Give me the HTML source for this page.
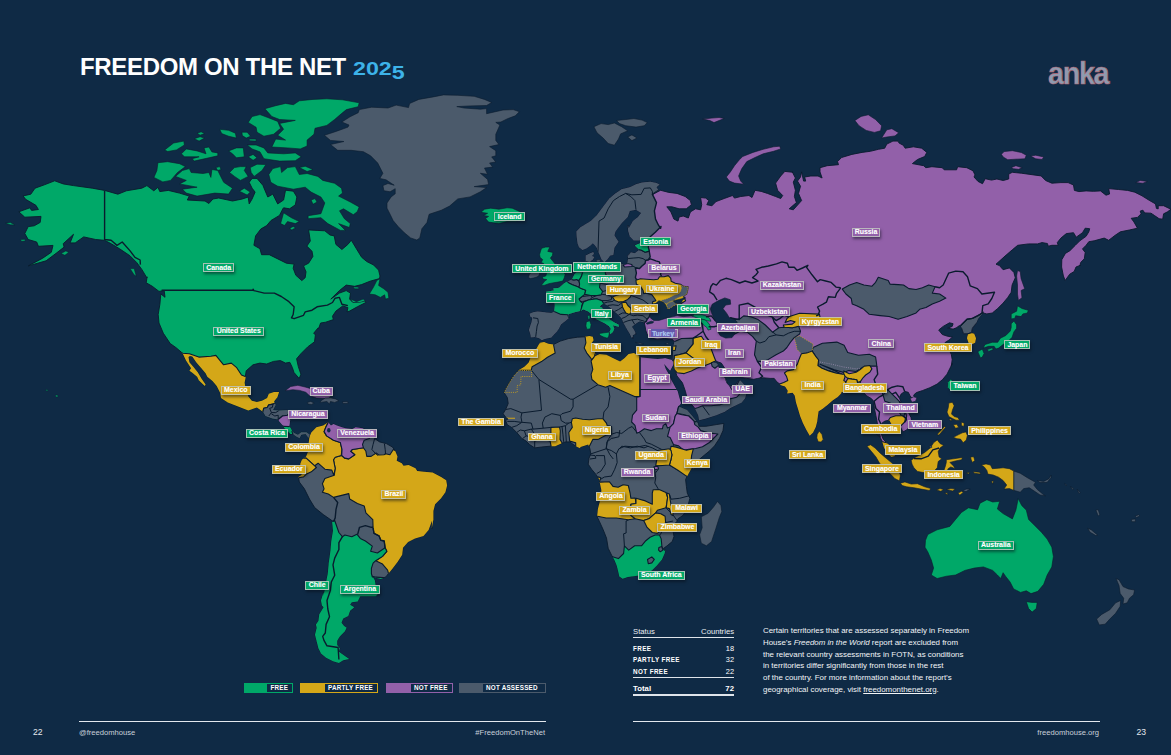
<!DOCTYPE html>
<html><head><meta charset="utf-8"><title>Freedom on the Net 2025</title>
<style>
html,body{margin:0;padding:0;}
body{width:1171px;height:755px;overflow:hidden;background:#0f2a45;font-family:"Liberation Sans",sans-serif;color:#fff;position:relative;}
#map{position:absolute;left:0;top:0;}
.abs{position:absolute;white-space:nowrap;}
#title{left:80px;top:53px;font-size:24px;font-weight:bold;line-height:28px;letter-spacing:-0.34px;transform-origin:0 0;}
#title .yr{display:inline-block;font-size:17.6px;letter-spacing:0;transform:scale(1.32,1);transform-origin:0 100%;margin-left:1px;}
#title .yr b{position:relative;top:4.3px;}
#title .yr{color:#3db3e9;}
#anka{left:1048px;top:54.5px;font-size:31.5px;font-weight:bold;line-height:36px;color:#8e9bb0;letter-spacing:-1.5px;-webkit-text-stroke:0.6px #b5646e;transform:scaleX(0.915);transform-origin:0 0;}
.hr{position:absolute;height:1px;background:#e3e8ee;top:720.6px;}
.foot{font-size:7.6px;color:#c9d0da;top:727.5px;line-height:10px;}
.pg{font-size:8.6px;color:#e5e9ee;top:727px;line-height:10px;}
.lg{position:absolute;top:683px;height:8px;border:1px solid;box-sizing:content-box;font-size:6.3px;font-weight:bold;line-height:8.6px;letter-spacing:0.22px;color:#fff;}
.lg i{position:absolute;left:0;top:0;bottom:0;display:block;}
.lg b{position:absolute;top:0;}
.lab{position:absolute;box-sizing:border-box;height:10px;border:1.2px solid rgba(192,198,192,.86);font-size:7px;font-weight:bold;letter-spacing:-0.05px;color:#fff;text-align:center;white-space:nowrap;box-shadow:1.2px 1.8px 2.6px rgba(5,12,22,.5);text-shadow:0 0 1px rgba(255,255,255,.35);}
#tbl{position:absolute;left:633px;top:626px;width:101px;font-size:7.4px;color:#fff;}
#tbl .r{position:absolute;left:0;width:101px;height:10px;line-height:10px;}
#tbl .r span{position:absolute;right:0;top:0;}
#tbl .ln{position:absolute;left:0;width:101px;background:#dfe4ea;}
#para{left:763px;top:625.3px;font-size:7.92px;line-height:11.65px;color:#f2f4f7;white-space:nowrap;}
</style></head><body>
<svg id="map" width="1171" height="755" viewBox="0 0 1171 755"><defs><clipPath id="na"><path d="M23.1,195.9 30.8,194.2 35,188.2 44.4,184.8 54.7,180.8 63.2,183.9 73.5,185.6 92.3,188.2 104.6,190.4 117.9,194.2 126.4,190.8 141.8,188.2 146.9,185.6 153.8,190.8 158,187.3 159.8,191.6 168.3,190.4 179.5,193.1 189.3,196.1 187.3,200 205,201 208.9,203.5 212.9,199 218.7,198 232.5,201 242.3,199 248.2,197 249.2,203.9 252.1,199 255.1,192.1 252.1,188.2 249.2,182.3 252.1,178.4 257,178.4 262.9,185.3 264.9,190.2 267.8,197 272.8,194.1 277.7,203.9 283.6,200 285.5,190.2 293.4,191.2 296.9,197 295.3,204.9 289.5,208.8 283.6,207.8 283,208.5 279.5,215.4 271,220.5 266.7,225.6 260.8,229 255.6,235.9 253.9,245.3 259.9,248.7 261.6,254.7 269.3,254.7 277.8,258.9 286.4,263.2 294.1,264.1 293.2,268.3 295.8,275.2 301.8,280.6 305.2,277.7 306,271.8 303.5,265.8 308.6,263.2 312.9,256.4 312,251.3 306.9,246.1 310.3,241 308.6,229.9 317.1,230.4 324.8,230.8 330,235 334.2,235.9 335.9,244.4 341.9,249.5 347.9,244.4 351.3,240.2 356.4,248.7 361.6,257.2 366.7,261.5 373.5,264.9 378.6,270.1 380,276 379.5,278.6 370.1,281.2 361.6,284.6 354.7,286.3 346.2,285.1 339.4,290.6 330.8,299.1 339.4,293.1 346.2,290.6 350.5,293.1 349.6,299.1 353,302.5 359.9,301.7 365,300.8 365.8,302.5 357.3,306.8 349.6,311.1 347,311.9 347.9,307.6 342.8,305.9 335.9,311.1 332.5,316.2 333.4,319.6 325.7,322.2 320.6,323 318.8,328.1 317.9,328.1 313.7,333.2 315.4,334.9 314.5,341.8 307.7,346.9 300.9,353.7 296.6,358.8 298.3,366.5 300.9,374.2 299.2,378.5 294,372.5 292.3,367.4 289.8,362.3 285.5,363.1 280.4,360.6 273.5,361.4 266.7,364 259.9,363.1 253,364.8 246.2,370.8 245.3,376.8 245.8,376.7 244.6,382.7 245.8,389.5 248.3,396.4 251.8,400.7 256.9,401.9 262,400.7 267.1,398.1 268.8,393.8 274,392.1 279.1,392.1 277.4,397.2 274,401.5 274.8,402.4 275.7,404.9 273.1,410.1 279.1,410.4 287.6,410.1 289.4,413.5 290.2,420.3 289.4,426.3 291.1,428.8 292.8,432.3 297.9,434.8 301.3,432.3 306.4,432.3 309.9,434.8 310.7,438.2 308.1,437.4 305.6,434 301.3,434.8 299.6,438.2 296.2,436.5 292.8,434 290.2,434 286.8,429.7 284.2,428 283.4,426.3 279.1,421.2 278.2,419.5 272.3,418.6 265.4,416 262.9,411.8 256.9,407.5 248.3,410.4 238.1,406.6 227.8,402.4 221,398.1 220.2,393 216.7,386.1 212.5,381 207.3,376.7 205.6,373.3 200.5,367.3 196.2,362.2 192.3,356.6 189.9,355.9 188.5,357.1 189.4,362.2 193.7,367.3 197.9,372.5 201.4,378.4 205.6,384.4 204.8,386.1 198.8,380.2 197.1,376.7 192,372.5 189.4,370.8 191.1,368.2 186,360.5 182.6,353.3 176.1,347.7 170.2,343.5 163.3,333.2 159,323 158.2,314.4 159.9,304.2 160.8,293.9 165,297.3 164.2,290.5 159,291.4 152.2,286.2 146.2,282.8 147.1,276.8 146.9,277.9 141.8,269.4 136.7,262.5 129.9,255.7 119.6,248.8 111.1,243.7 104.6,240.3 95.7,239.5 83.7,236.9 75.2,242.9 70.1,242.9 73.5,234.3 63.2,243.7 64.1,247.1 56.4,253.1 46.1,260.8 28.2,265.9 42.7,258.2 51.3,252.3 53,245.4 38.4,246.3 36.7,242 28.2,239.5 24.8,233.5 28.2,226.6 34.2,225.8 40.2,222.4 41,216.4 24.8,217.2 18.8,211.8 29.9,207.8 31.6,210.4 38.4,209.5 35.9,205.3 25.6,199.3Z"/></clipPath><clipPath id="sa"><path d="M309.5,436.7 311.3,432.5 316.4,427.3 323.2,425.6 328.3,422.2 330.9,425.6 333.5,423.9 336.9,425.6 342,427.3 345.4,428.2 352.3,429 355.7,427.3 362.5,428.2 365.9,429.9 371.1,434.2 374.5,438.4 379.6,441.9 386.4,443.6 392.4,447 395,450.4 397.5,456.4 396.7,460.7 401.8,463.2 403.5,465.8 408.6,464.9 415.5,468.3 417.2,470.9 424,471.8 432.6,472.6 441.1,476.9 446.2,480.3 447.1,485.4 445.4,492.3 441.1,498.2 435.1,504.2 433.4,511.1 433.4,519.6 431.7,529 432.1,520.5 428.6,529.9 423.5,535.9 415,538.4 408.1,541.9 403,547.8 402.2,554.7 397.9,561.5 392.8,568.3 388.5,573.5 385.9,576.9 380.8,578.9 375.7,577.7 372.3,576 374.8,580.3 375.7,585.4 379.1,588.8 377.4,594.8 375.7,596.2 360.3,596.2 357.7,601.4 351.8,602.2 350.1,604.8 354.3,607.3 350.1,610.8 348.3,615.9 343.2,618.4 341.5,622.7 344.1,626.1 346.6,627.8 344.9,631.3 339.8,636.4 337.2,640.7 337.2,644.9 339.8,648.3 338.9,651.8 344.9,656 349.2,658.9 343.2,660.3 338.9,662.9 333,661.2 326.1,657.7 321,653.5 318.4,648.3 316.7,641.5 315,634.7 316.7,627.8 315.9,624.4 318.4,621 319.3,614.2 323.6,607.3 321.9,605.6 321,600.5 323.6,592 323.6,595.7 326.1,582 327.8,573.5 328.7,563.2 330.4,551.3 331.3,541 333,530.8 332.1,521.4 333.5,521.7 331.8,520.5 323.2,514.5 314.7,507.6 309.5,499.1 304.4,488.8 299.3,482 298.4,476.9 301,475.2 303.6,471.8 301,468.3 300.2,464.1 301.9,459.8 306.1,456.4 309.5,447.8 308.7,442.7Z"/></clipPath><clipPath id="af"><path d="M539.8,342.8 544.1,342 548.3,343.7 553.5,344.5 560.3,341.1 568.8,338.5 577.4,337.2 585.1,336.8 589.4,336 592.8,336.8 593.6,340.3 591.1,343.7 592.8,347.1 596.2,352.2 594.5,356.5 599.6,353.9 606.4,354.8 613.3,358.2 620.1,361.6 624.4,358.2 628.6,353.9 633.8,353.1 638.9,355.6 640.6,357.3 649.2,358.2 657.7,359 664.5,358.2 664.9,357.9 670.1,359.6 673.1,360.2 673.8,363.9 670.1,370.8 664.1,363.9 665.8,369 668.3,373.3 670.9,379.3 675.2,387 677.7,391.3 679.5,398.1 681.2,403.2 678.6,406.6 681.2,407.5 687.1,410.1 692.3,416 695.7,420.3 698.2,422.9 699.1,426.3 705.9,426.3 716.2,424.6 723.9,423.4 723,430.6 719.6,438.2 714.5,445.9 709.4,451.1 704.2,455.3 699.1,459.6 694.8,464.7 693.1,469 692.4,466.7 688.1,474.4 685.6,479.5 686.4,486.4 687.3,493.2 689.9,498.3 688.1,505.2 686.4,510.3 683,515.4 677.9,518.8 677.4,521 674,524.4 673.1,531.3 674,536.4 672.3,541.5 667.1,545.8 663.7,548.3 665.4,550.1 664.6,553.5 662,559.5 656.9,565.4 651.8,570.6 644.9,574 637.2,575.7 627.8,577 622.7,578.8 619.3,576.5 618.4,572.3 616.7,565.4 614.2,559.5 611.6,555.2 608.2,548.3 606.5,538.1 603.1,529.5 599.6,521.9 597.1,516.7 597.9,509 600.5,498.8 601.4,490.3 599.6,481.7 599.3,479.5 595.9,474.4 591.6,469.3 588.2,464.2 589,458.2 590.8,453.9 589.9,448.8 588.2,444.5 580.5,447.1 580,448.2 575.7,446.2 569.7,441.9 565.4,441.9 561.2,443.6 555.2,446.2 550.1,446.2 541.5,447 534.7,447.9 529.5,444.5 526.1,441.1 521.9,438.5 516.7,432.5 511.6,427.4 507.3,424.8 505.6,420.6 508.2,418.8 505.6,417.1 503.1,413.7 505.6,409.5 508.2,403.5 507.3,397.5 503.9,392.4 505.6,388.9 509,383 513.3,376.1 518.4,370.2 524.4,366.7 528.7,362.5 531.3,355.6 536.4,348.8Z"/></clipPath><clipPath id="ea"><path d="M672.7,361 673.1,350.2 673.4,346.6 674.3,342.1 672.5,339.4 664.4,338.5 657.2,339.4 650,337.6 647.1,334.2 645.7,330.1 645,326 644.3,322.6 640.2,321.2 637.5,322.6 634.8,324.6 632,326.7 634.1,330.1 636.1,334.2 632.7,334.9 633.4,338.3 631.4,337.6 630,334.2 627.9,330.8 625.9,327.4 625.2,326 623.2,322.6 621.8,318.5 618.4,315.1 614.3,311.6 610.9,308.2 607.4,305.5 603.3,303.4 600.6,305.5 599.9,306.9 602,307.5 604,311.6 607.4,316.4 610.2,319.8 614.3,322.6 618.4,324.6 619.1,326.7 615.6,326 612.9,325.3 614.3,328.7 612.9,332.1 610.2,334.2 609.5,332.1 610.9,328.7 608.8,326 604.7,323.3 600.6,321.2 596.5,319.2 592.4,315.1 588.3,311.6 583.5,309.6 580.1,311 574.7,312.3 569.9,313.7 567.8,314.8 569.2,317.8 565.1,321.2 561,324.6 558.9,328.7 556.9,331.5 554.2,334.2 551.4,337.6 544.6,339 541.9,340.3 539.1,338.3 535,336.9 530.9,337.6 530.2,333.5 528.9,330.1 530.2,326 531.6,321.9 532.3,317.8 530.2,316.4 529.6,313.7 533,312.3 537.8,311.6 544.6,312.3 551.4,313 554.2,311.6 554.8,305.5 554.2,298.7 551.4,294.6 546.6,293.9 546,291.8 553.5,290.5 553.9,291.4 553.4,288.3 556,288.3 559.1,287.8 564.2,283.2 567.3,281.6 571.9,279.6 574.4,274.5 576.5,272.4 582.6,272.4 585.7,268.8 586.7,264.7 585.7,262.2 585.7,255.5 589.8,253.4 593.4,251.9 593.9,254 591.9,256 594.4,257 592.9,259.6 590.8,261.1 589.8,262.7 592.9,262.7 596,264.2 601.1,263.7 605.2,264.7 609.3,264.2 615.4,263.2 621.6,263.7 623.6,264.7 623.6,265 627.2,263.7 627.7,260.9 628.2,258.3 627.7,255.7 630.7,252.2 634.8,253.2 638.4,250.6 638.4,249.1 634.8,245.5 639.5,243.4 645.1,242.4 650.2,241.9 650.2,240.4 645.1,240.4 640,240.4 633.8,240.4 629.7,236.3 628.2,231.1 627.7,225 628.8,228.3 632.9,221.1 638,217 641.1,212.9 636,209.8 629.8,210.9 627.7,217 621.6,223.2 615.4,231.4 614.4,235.5 618.5,241.7 614.4,247.8 613.4,255 610.3,255.5 607.2,259.6 604.2,262.2 601.6,259.6 599,253.4 597,248.3 594.9,245.2 592.9,243.2 590.8,245.2 586.7,248.3 582.6,249.9 579,247.3 577.5,243.2 576.5,235 576.4,231.4 580.5,227.3 590.8,221.1 597,215 603.1,206.8 609.3,198.5 615.4,193.4 621.6,189.3 629.8,187.3 636,184.2 642.1,182.5 650.3,181.7 656.5,183.1 659.6,184.6 656.5,187.3 658.5,190.3 652.4,194.4 660.6,190.3 668.8,192.4 677,193.4 685.2,196.5 690.4,200.6 691.4,204.7 686.3,208.8 679.1,208.8 671.9,206.8 666.8,206.8 670.9,211.9 673.9,219.1 678,221.1 679.1,217 683.2,216 688.3,218 690.4,211.9 695.5,208.8 700.6,209.8 701.7,204.7 700.6,197.5 705.8,198.1 708.8,200.6 706.8,204.7 711.9,205.7 716,201.6 724.2,198.5 732.5,195.5 734.5,198.1 740.7,196.5 748.9,195.5 752,197.5 755,190.3 761.2,191.4 767.4,193.4 775.6,196.5 780.7,198.5 782.7,195.5 777.6,190.3 775.6,183.1 780.7,176 784.8,171.4 793,172.3 792.3,171.9 795.4,178 793.3,182.1 795.4,190.3 794.4,196.5 796.4,202.6 789.2,208.8 793.3,209.8 801.6,200.6 798.5,193.4 800.5,186.2 797.5,181.1 800.5,177 801.6,171.9 803.6,181.1 805.7,181.1 804.6,177 810.8,176 818,176 822.1,178 820,171.9 820,167.7 827.2,165.7 838.5,164.7 837.5,161.6 841.6,157.5 851.9,154.4 862.1,152.4 870.3,151.3 878.5,149.3 884.7,148.2 886.8,144.1 892.9,141.1 898,141.1 899.1,143.1 903.2,145.2 905.2,148.2 913.4,146.8 921.7,148.2 926.8,152.4 924.7,156.5 917.5,159.5 912.4,163.6 923.7,165.7 925.8,167.7 931.9,166.7 942.2,167.7 944.2,169.8 956.6,169.8 957.6,166.7 966.8,167.7 973,170.8 975,174.9 974,177 978,181.4 982.5,183.7 985.2,178.7 991.5,180.1 996.9,179 1003.2,180.5 1008.7,179 1008.7,174.1 1012.3,172.3 1021.3,173.2 1032.1,174.7 1041.1,175.9 1045.6,180.5 1051.9,183.2 1060.9,182.6 1068.1,182.6 1073.5,185 1074.4,190.4 1078.9,191.6 1086.1,190.9 1093.3,191.3 1100.5,190.9 1106,195.2 1109.6,194 1108.7,188.6 1118.6,189.5 1127.6,190.4 1134.8,192.2 1142,195.8 1149.2,200.3 1155.5,203.9 1156.4,208.4 1158.2,208.9 1158.2,205.7 1163.6,205.7 1171,209.3 1167.2,212 1163.6,213.8 1162.7,219.2 1159.1,218.7 1154.6,215.6 1151,213.2 1144.7,212.9 1142.9,210.2 1140.2,211.1 1141.1,213.8 1137.5,217.4 1131.2,218.3 1133.9,221.9 1137.5,228.2 1129.4,230 1120.4,231.8 1115,235.4 1108.7,240.3 1104.2,238.1 1094.2,240.8 1088.8,241.7 1086.1,245.3 1082.5,248.9 1085.2,252.5 1084.3,258.8 1080.7,262.4 1079.8,266 1080.5,265.2 1076,267 1074.2,271.5 1069.7,274.2 1065.2,280.5 1063.4,276 1061.6,267 1061.8,259.7 1065.4,253.4 1069.9,250.7 1075.3,245.3 1079.8,240.8 1086.1,236.3 1088.8,231.8 1089.7,228.7 1085.2,228.2 1082.5,232.7 1076.2,237.2 1073.5,232.7 1066.3,233.6 1060.9,238.1 1057.3,242.6 1058.2,245.3 1051.9,245.3 1048.3,246.2 1047.4,243.5 1042,242.6 1037.5,243.9 1028.5,243.9 1017.7,245.3 1012.3,249.8 1005,256.1 996,264.2 999.5,265.6 1003.1,269.7 1009.4,267.9 1013.9,272.4 1015.3,277.8 1012.1,285 1011.2,292.3 1007.6,297.7 1003.1,303.1 997.7,308.5 992.3,313 986.8,313.9 983.2,313 980.5,315.7 977.8,319.3 976,323.8 972.4,328.3 971.5,332.8 974.2,333.7 976,338.2 975.1,342.7 971.5,344.5 968.8,343.6 967,338.2 967.9,333.7 963.4,333.7 961.6,328.3 960.7,325.6 960.3,325.5 957.6,327.3 953.1,329.1 947.7,328.2 952.2,326.4 953.1,323.7 949.5,322.8 943.2,326.4 938.7,330 942.3,334.5 946.8,336 952.5,337.2 948.6,340.3 945,342.6 948.6,348.9 951.3,354.3 952.2,359.7 951.3,366 952.4,363.4 949.7,368.8 947,374.2 942.5,379.6 937.1,384.1 929.9,387.7 922.7,390.5 916.4,392.6 913.7,395 914.6,397.7 911.9,398 910.1,395.9 908.3,392.3 904.7,391.4 901.1,394.1 899.3,397.7 901.1,402.2 904.7,406.7 908.3,412.1 911,417.5 911.9,422 910.1,426.5 906.5,430.1 902.9,431.9 901.1,428.3 895.7,426.5 891.2,423.8 889.4,420.2 884.9,421.1 882.2,422.9 880.4,428.3 881.3,433.7 883.1,439.1 886.7,442.7 891.4,447.1 893.2,451.6 895,456.1 891.4,457 887.7,453.4 884.1,448 882.3,441.7 880.5,438.1 876,433.6 880.4,437.3 878.6,430.1 877.3,422.9 875.9,415.7 874.4,408.5 873.7,401.3 871.4,398.6 866.8,395.9 863.2,392.3 858.7,390.8 860.9,392.1 856.1,392.8 849.3,393.1 843.8,392.8 841.8,391.7 841.1,393.5 837.7,396.9 832.9,400.3 827.4,405.1 822,409.2 818.6,411.2 817.9,416 817.2,421.5 815.8,427 813.1,432.4 809.7,435.8 806.3,429.7 802.9,422.9 800.1,416 798.1,409.2 796,402.4 794.7,395.5 792.6,392.8 787.1,393.5 787.8,390.7 785.1,386.6 781,385.3 779.6,383.9 776.9,381.9 774.2,378.4 770.1,378.4 763.2,377.8 757.8,378.4 753.8,379.3 746.9,378.4 741.8,377.6 735,376.7 728.1,373.3 724.7,368.2 721.3,363.1 716.2,361.4 713.6,362.2 716.2,363.1 717.9,364.8 719.6,368.2 722.2,374.2 725.6,378.4 727.3,383.6 729.9,386.1 735,385.3 738.4,381 740.1,380.2 741.8,381.9 745.2,386.1 746.9,391.3 745.2,398.1 741.8,402.4 735,405.8 729.9,408.3 724.7,411.8 716.2,415.2 705.9,418.6 699.1,420.3 698.2,415.2 694.8,408.3 690.6,403.2 687.1,398.1 685.4,391.3 682.4,382.7 676.9,375.9 674.7,369 673.8,363.9 673.1,360.2Z"/></clipPath></defs><path d="M23.1,195.9 30.8,194.2 35,188.2 44.4,184.8 54.7,180.8 63.2,183.9 73.5,185.6 92.3,188.2 104.6,190.4 117.9,194.2 126.4,190.8 141.8,188.2 146.9,185.6 153.8,190.8 158,187.3 159.8,191.6 168.3,190.4 179.5,193.1 189.3,196.1 187.3,200 205,201 208.9,203.5 212.9,199 218.7,198 232.5,201 242.3,199 248.2,197 249.2,203.9 252.1,199 255.1,192.1 252.1,188.2 249.2,182.3 252.1,178.4 257,178.4 262.9,185.3 264.9,190.2 267.8,197 272.8,194.1 277.7,203.9 283.6,200 285.5,190.2 293.4,191.2 296.9,197 295.3,204.9 289.5,208.8 283.6,207.8 283,208.5 279.5,215.4 271,220.5 266.7,225.6 260.8,229 255.6,235.9 253.9,245.3 259.9,248.7 261.6,254.7 269.3,254.7 277.8,258.9 286.4,263.2 294.1,264.1 293.2,268.3 295.8,275.2 301.8,280.6 305.2,277.7 306,271.8 303.5,265.8 308.6,263.2 312.9,256.4 312,251.3 306.9,246.1 310.3,241 308.6,229.9 317.1,230.4 324.8,230.8 330,235 334.2,235.9 335.9,244.4 341.9,249.5 347.9,244.4 351.3,240.2 356.4,248.7 361.6,257.2 366.7,261.5 373.5,264.9 378.6,270.1 380,276 379.5,278.6 370.1,281.2 361.6,284.6 354.7,286.3 346.2,285.1 339.4,290.6 330.8,299.1 339.4,293.1 346.2,290.6 350.5,293.1 349.6,299.1 353,302.5 359.9,301.7 365,300.8 365.8,302.5 357.3,306.8 349.6,311.1 347,311.9 347.9,307.6 342.8,305.9 335.9,311.1 332.5,316.2 333.4,319.6 325.7,322.2 320.6,323 318.8,328.1 317.9,328.1 313.7,333.2 315.4,334.9 314.5,341.8 307.7,346.9 300.9,353.7 296.6,358.8 298.3,366.5 300.9,374.2 299.2,378.5 294,372.5 292.3,367.4 289.8,362.3 285.5,363.1 280.4,360.6 273.5,361.4 266.7,364 259.9,363.1 253,364.8 246.2,370.8 245.3,376.8 245.8,376.7 244.6,382.7 245.8,389.5 248.3,396.4 251.8,400.7 256.9,401.9 262,400.7 267.1,398.1 268.8,393.8 274,392.1 279.1,392.1 277.4,397.2 274,401.5 274.8,402.4 275.7,404.9 273.1,410.1 279.1,410.4 287.6,410.1 289.4,413.5 290.2,420.3 289.4,426.3 291.1,428.8 292.8,432.3 297.9,434.8 301.3,432.3 306.4,432.3 309.9,434.8 310.7,438.2 308.1,437.4 305.6,434 301.3,434.8 299.6,438.2 296.2,436.5 292.8,434 290.2,434 286.8,429.7 284.2,428 283.4,426.3 279.1,421.2 278.2,419.5 272.3,418.6 265.4,416 262.9,411.8 256.9,407.5 248.3,410.4 238.1,406.6 227.8,402.4 221,398.1 220.2,393 216.7,386.1 212.5,381 207.3,376.7 205.6,373.3 200.5,367.3 196.2,362.2 192.3,356.6 189.9,355.9 188.5,357.1 189.4,362.2 193.7,367.3 197.9,372.5 201.4,378.4 205.6,384.4 204.8,386.1 198.8,380.2 197.1,376.7 192,372.5 189.4,370.8 191.1,368.2 186,360.5 182.6,353.3 176.1,347.7 170.2,343.5 163.3,333.2 159,323 158.2,314.4 159.9,304.2 160.8,293.9 165,297.3 164.2,290.5 159,291.4 152.2,286.2 146.2,282.8 147.1,276.8 146.9,277.9 141.8,269.4 136.7,262.5 129.9,255.7 119.6,248.8 111.1,243.7 104.6,240.3 95.7,239.5 83.7,236.9 75.2,242.9 70.1,242.9 73.5,234.3 63.2,243.7 64.1,247.1 56.4,253.1 46.1,260.8 28.2,265.9 42.7,258.2 51.3,252.3 53,245.4 38.4,246.3 36.7,242 28.2,239.5 24.8,233.5 28.2,226.6 34.2,225.8 40.2,222.4 41,216.4 24.8,217.2 18.8,211.8 29.9,207.8 31.6,210.4 38.4,209.5 35.9,205.3 25.6,199.3Z" fill="#00a868" stroke="#0a1b2e" stroke-width="0.9" stroke-linejoin="round"/>
<path d="M180,352 182.6,353.3 189.4,353.7 198.8,357.1 210.8,356.2 215.9,355.4 219.3,359.6 223.6,364.8 231.3,363.1 236.4,367.3 241.5,375 245.8,376.7 251.8,376.7 285.9,389.5 282.5,398.1 273.1,404.1 268.8,404.9 267.1,407.5 263.7,408.3 262.9,411.8 260.3,416.9 214.2,408.3 180,365.6Z" fill="#d4a718" stroke="#0a1b2e" stroke-width="1.1" stroke-linejoin="round" clip-path="url(#na)"/>
<path d="M262.9,411.8 263.7,408.3 267.1,407.5 268.8,404.9 273.1,404.1 282.5,398.1 292.8,408.3 289.4,413.5 287.6,415.2 282.5,416 278.2,419.5 275.7,423.7 260.3,416.9Z" fill="#4b5a6b" stroke="#0a1b2e" stroke-width="1.1" stroke-linejoin="round" clip-path="url(#na)"/>
<path d="M273.1,404.1 272.3,407.5 269.7,408.3 271.4,412.6 268.8,416" fill="none" stroke="#0a1b2e" stroke-width="1.0" stroke-linejoin="round" clip-path="url(#na)"/>
<path d="M271.4,412.6 275.7,412.6 279.1,410.4" fill="none" stroke="#0a1b2e" stroke-width="1.0" stroke-linejoin="round" clip-path="url(#na)"/>
<path d="M271.4,413.8 274.8,416 278.2,415.2 278.2,419.5" fill="none" stroke="#0a1b2e" stroke-width="1.0" stroke-linejoin="round" clip-path="url(#na)"/>
<path d="M278.2,419.5 282.5,416 287.6,415.2 289.4,413.5 294.5,415.2 292.8,425.4 289.4,426.6 283.4,426.3 277.4,423.7Z" fill="#9260a9" stroke="#0a1b2e" stroke-width="1.1" stroke-linejoin="round" clip-path="url(#na)"/>
<path d="M283.4,426.3 289.4,426.6 292.8,425.4 296.2,432.3 292.8,434 291.1,437.4 282.5,430.6Z" fill="#00a868" stroke="#0a1b2e" stroke-width="1.1" stroke-linejoin="round" clip-path="url(#na)"/>
<path d="M292.8,434 291.9,431.4 296.2,430.6 313.3,430.6 310.7,438.2 306.4,440.8 296.2,440.8 291.1,437.4Z" fill="#4b5a6b" stroke="#0a1b2e" stroke-width="1.1" stroke-linejoin="round" clip-path="url(#na)"/>
<path d="M104.6,190.4 104.6,239.5 111.1,240.3 117,245.4 122.2,242 129.9,250.6 135,257.4 140.1,260 140.4,264.6" fill="none" stroke="#0a1b2e" stroke-width="1.4" stroke-linejoin="round" clip-path="url(#na)"/>
<path d="M161.6,290.2 253,290.2 253.1,289.2 253.9,290.6 264.2,293.1 274.4,293.1 281.3,296.5 288.9,301.7 294.1,306.8 293.2,314.5 291.5,317.9 294.1,318.7 303.5,315.3 305.2,311.9 312,310.2 317.1,306.8 327.4,305.1 332.5,302.5 335.1,298.2 339.4,297.4 341.9,304.2 347.9,305.6" fill="none" stroke="#0a1b2e" stroke-width="1.4" stroke-linejoin="round" clip-path="url(#na)"/>
<path d="M285.1,390.7 290.7,386.5 297.9,385.3 305.1,387 311.9,388.9 317,392.3 323.5,395 330.7,396 329,398.6 316.7,398.1 309.5,395.7 305.8,392.3 299.6,390.4 292.8,389.7Z" fill="#9260a9" stroke="#0a1b2e" stroke-width="0.6" stroke-linejoin="round"/>
<path d="M325.2,398.1 330.4,397.8 335.5,398.9 338.9,400.7 334.6,402.4 330.4,401.5 329.5,404.1 326.9,401.5 320.1,402.4 321,400.7Z" fill="#4b5a6b" stroke="#0a1b2e" stroke-width="0.6" stroke-linejoin="round"/>
<path d="M307.3,402.4 310.7,401.5 314.1,402.9 311.6,404.4 308.1,404.1Z" fill="#4b5a6b" stroke="#0a1b2e" stroke-width="0.6" stroke-linejoin="round"/>
<path d="M342.3,401.9 347.4,401.5 348.3,403.2 343.2,403.6Z" fill="#4b5a6b" stroke="#0a1b2e" stroke-width="0.6" stroke-linejoin="round"/>
<path d="M55.5,395.2 57.5,395 58,396.8 56,397Z" fill="#00a868" stroke="#0a1b2e" stroke-width="0.4" stroke-linejoin="round"/>
<path d="M46,389.5 48,390 47.5,391 45.8,390.6Z" fill="#00a868" stroke="#0a1b2e" stroke-width="0.4" stroke-linejoin="round"/>
<path d="M264.9,108.7 275.7,105.7 285.5,103.4 293.4,104.7 299.3,100.8 313,99.4 326.8,98.8 342.5,99.8 359.2,102.8 358.2,106.7 346.4,109.6 341.5,113.6 334.6,119.5 326.8,125.4 315,128.3 314,134.2 307.1,140.1 307.1,146 300.3,148.9 287.5,147.9 271.8,147 275.7,139.1 285.5,140.1 277.7,135.2 283.6,129.3 279.6,123.4 295.3,120.4 279.6,119.5 271.8,116.5Z" fill="#00a868" stroke="#0a1b2e" stroke-width="0.6" stroke-linejoin="round"/>
<path d="M248.2,122.4 252.1,116.5 260,114.6 267.8,117.5 277.7,121.4 280.6,128.3 273.7,134.2 263.9,136.2 257,132.2 256.1,127.3Z" fill="#00a868" stroke="#0a1b2e" stroke-width="0.6" stroke-linejoin="round"/>
<path d="M247.2,145 256.1,145 263.9,147.9 267.8,152.9 283.6,153.8 295.3,152.9 301.2,156.8 295.3,160.7 279.6,161.1 263.9,158.7 260,151.9 252.1,148.9Z" fill="#00a868" stroke="#0a1b2e" stroke-width="0.6" stroke-linejoin="round"/>
<path d="M228.6,150.9 236.4,147.9 243.3,147.9 244.3,156.8 236.4,157.8 232.5,153.8Z" fill="#00a868" stroke="#0a1b2e" stroke-width="0.6" stroke-linejoin="round"/>
<path d="M248.2,156.8 253.1,154.4 257,157.8 253.1,160.3Z" fill="#00a868" stroke="#0a1b2e" stroke-width="0.6" stroke-linejoin="round"/>
<path d="M181.4,153.8 186.3,148.9 197.1,150.9 206,153.8 204,147.9 208.9,147 211.9,151.9 217.8,152.9 217.8,155.8 208.9,157.8 194.2,161.1 192.2,158.7 199.1,156.8 184.4,156.8Z" fill="#00a868" stroke="#0a1b2e" stroke-width="0.6" stroke-linejoin="round"/>
<path d="M164.7,149.9 173.6,143 183.8,141.1 184.4,145 176.5,149.9 167.7,151.5Z" fill="#00a868" stroke="#0a1b2e" stroke-width="0.6" stroke-linejoin="round"/>
<path d="M197.1,133.2 201.1,131.8 204.6,133.6 200.1,135.2Z" fill="#00a868" stroke="#0a1b2e" stroke-width="0.6" stroke-linejoin="round"/>
<path d="M194.2,138.7 200.1,136.7 204.6,138.1 199.1,141.1Z" fill="#00a868" stroke="#0a1b2e" stroke-width="0.6" stroke-linejoin="round"/>
<path d="M219.7,129.3 228.6,130.3 235.4,133.2 236.4,138.1 228.6,136.2 221.7,133.6Z" fill="#00a868" stroke="#0a1b2e" stroke-width="0.6" stroke-linejoin="round"/>
<path d="M241.9,132.2 247.2,132.2 250.6,136.2 246.2,138.1 242.3,135.6Z" fill="#00a868" stroke="#0a1b2e" stroke-width="0.6" stroke-linejoin="round"/>
<path d="M249.2,139.1 256.1,139.1 256.1,141.1 249.2,140.7Z" fill="#00a868" stroke="#0a1b2e" stroke-width="0.6" stroke-linejoin="round"/>
<path d="M157.9,162.7 167.7,161.7 179.5,163.7 185.4,166.6 177.5,172.5 170.6,180.4 162.8,181.9 153.9,177.4 156.9,170.5Z" fill="#00a868" stroke="#0a1b2e" stroke-width="0.6" stroke-linejoin="round"/>
<path d="M175.5,176.4 182.4,170.5 189.3,168.6 191.2,172.5 203,173.5 208.9,172.5 210.9,177.4 211.9,169.5 217.8,170.5 220.7,176.4 223.7,182.3 232.5,188.2 228.6,194.1 214.8,193.1 197.1,196.1 186.3,193.1 182.4,189.2 197.1,187.2 179.5,183.9 186.3,180.4Z" fill="#00a868" stroke="#0a1b2e" stroke-width="0.6" stroke-linejoin="round"/>
<path d="M215.8,167.6 219.7,166.6 221.1,169.5 217.8,170.5Z" fill="#00a868" stroke="#0a1b2e" stroke-width="0.6" stroke-linejoin="round"/>
<path d="M229.5,172.5 234.5,167.6 240.4,166.6 246.2,166.6 244.3,170.5 248.2,176.4 240.4,180.4 234.5,176.4Z" fill="#00a868" stroke="#0a1b2e" stroke-width="0.6" stroke-linejoin="round"/>
<path d="M250.2,167.6 257,164.2 265.9,164.6 262,170.5 254.1,176.4 251.2,172.5Z" fill="#00a868" stroke="#0a1b2e" stroke-width="0.6" stroke-linejoin="round"/>
<path d="M268.8,174.5 272.8,168.6 280.6,166.6 281.6,172.5 287.5,167.6 295.3,166.6 299.3,174.5 307.1,173.5 317.9,176.4 322.8,180.4 334.6,183.3 341.5,188.2 342.5,193.1 338.6,196.1 350.3,202 359.2,206.9 357.2,211.8 353.3,214.7 343.5,208.8 339.5,210.8 344.4,218.7 350.3,223.6 349.4,227.5 338.6,223.6 345.4,230.4 340.5,230.4 327.8,223.6 320.9,217.7 308.1,218.7 308.1,215.7 320.9,213.7 324.8,202.9 320.9,197 311.1,192.1 305.2,187.2 293.4,189.2 277.7,186.2 270.8,182.3Z" fill="#00a868" stroke="#0a1b2e" stroke-width="0.6" stroke-linejoin="round"/>
<path d="M299.3,167.6 305.2,166.2 313,169.5 307.1,171.5Z" fill="#00a868" stroke="#0a1b2e" stroke-width="0.6" stroke-linejoin="round"/>
<path d="M239.4,191.2 244.3,188.2 250.2,192.1 247.2,195.1Z" fill="#00a868" stroke="#0a1b2e" stroke-width="0.6" stroke-linejoin="round"/>
<path d="M280.6,223.6 283.6,212.8 291.4,217.7 299.3,221.6 295.3,223.6 287.5,221.6 284.5,225.5Z" fill="#00a868" stroke="#0a1b2e" stroke-width="0.6" stroke-linejoin="round"/>
<path d="M311.1,200 315,198.6 317,202 313,204.3Z" fill="#00a868" stroke="#0a1b2e" stroke-width="0.6" stroke-linejoin="round"/>
<path d="M289.5,228.5 293.4,226.9 295,228.5 291.4,229.8Z" fill="#00a868" stroke="#0a1b2e" stroke-width="0.6" stroke-linejoin="round"/>
<path d="M369.3,294 373.5,287.1 376.9,280.3 380,278.9 378.6,285.4 383.8,288.8 388,292.3 388.9,298.2 385.5,299.1 384.6,294.8 380.4,297.4 375.2,294.8Z" fill="#00a868" stroke="#0a1b2e" stroke-width="0.6" stroke-linejoin="round"/>
<path d="M289.8,228.2 293.2,226.5 295.3,227.7 291.9,229.9Z" fill="#00a868" stroke="#0a1b2e" stroke-width="0.5" stroke-linejoin="round"/>
<path d="M353,287.1 358.1,287.1 359,288.8 354.7,288.8Z" fill="#00a868" stroke="#0a1b2e" stroke-width="0.5" stroke-linejoin="round"/>
<path d="M350.5,299.1 356.4,301.7 363.3,299.1 365,300.8 359.9,302.5 353,302.5Z" fill="#00a868" stroke="#0a1b2e" stroke-width="0.5" stroke-linejoin="round"/>
<path d="M5.5,223.2 10.3,222.5 15,224.9 10.3,224.8Z" fill="#00a868" stroke="#0a1b2e" stroke-width="0.5" stroke-linejoin="round"/>
<path d="M20.5,239.6 24.8,239.3 25.3,241 21.4,241.3Z" fill="#00a868" stroke="#0a1b2e" stroke-width="0.5" stroke-linejoin="round"/>
<path d="M61,253.6 65.8,250.9 68.7,252.3 64.9,255.3Z" fill="#00a868" stroke="#0a1b2e" stroke-width="0.5" stroke-linejoin="round"/>
<path d="M130.2,268.8 134.1,268.5 136.3,276.2 134.1,274.8Z" fill="#00a868" stroke="#0a1b2e" stroke-width="0.5" stroke-linejoin="round"/>
<path d="M324.4,135.3 336.7,131.2 348,127.1 349,125 341.8,122 350,116.8 358.2,112.7 359.3,109.6 371.6,107.2 388,108 396.2,105.1 408.5,107.6 409.6,103.5 418.8,99.4 433.2,96.9 443.4,94.9 457.8,95.3 474.2,96.3 484.5,99.4 491.7,102.5 486.6,105.5 470.1,105.9 456.8,106.6 464,108 480.4,109.2 486.6,108.6 486.6,113.7 503,110 513.2,109.6 519.4,111.7 515.3,115.8 507.1,118.9 500.9,122 495.8,122.4 499.9,125 495.8,134.3 495.8,140.4 498.9,144.5 489.6,146.6 495.8,150.7 495.8,155.8 491.7,156.9 495.8,162 489.6,163 492.7,167.1 484.5,168.1 487.6,174.3 480.4,173.3 487.6,179.4 488.6,184.6 474.2,186.6 486.6,187.6 480.4,191.8 470.1,196.9 457.8,198.9 449.6,206.1 441.4,210.2 429.1,214.3 427,222.5 421.9,228.7 419.8,237.9 416.8,240 410.6,237.9 404.4,232.8 398.3,226.7 393.1,220.5 390.1,214.3 387,208.2 387,203 391.1,196.9 395.2,193.8 395.2,188.7 390.1,191.8 383.9,190.7 382.9,185.6 388,183.5 394.2,185.2 386,179.8 379.8,178.4 382.9,173.3 377.7,163 370.6,155.8 363.4,151.7 351.1,150.3 337.7,150.3 330.5,144.5 343.9,141.5 330.5,140.4Z" fill="#4b5a6b" stroke="#0a1b2e" stroke-width="0.6" stroke-linejoin="round"/>
<path d="M481,212.3 484.5,209.2 490.7,208.2 498.9,209.2 507.1,207.8 512.2,208.2 523.5,213.3 524.5,218.4 515.3,221.5 507.1,221.5 498.9,223.6 488.6,222.1 485.5,218.4 488.6,216.4 483.5,215.4 487.6,213.3Z" fill="#00a868" stroke="#0a1b2e" stroke-width="0.6" stroke-linejoin="round"/>
<path d="M309.5,436.7 311.3,432.5 316.4,427.3 323.2,425.6 328.3,422.2 330.9,425.6 333.5,423.9 336.9,425.6 342,427.3 345.4,428.2 352.3,429 355.7,427.3 362.5,428.2 365.9,429.9 371.1,434.2 374.5,438.4 379.6,441.9 386.4,443.6 392.4,447 395,450.4 397.5,456.4 396.7,460.7 401.8,463.2 403.5,465.8 408.6,464.9 415.5,468.3 417.2,470.9 424,471.8 432.6,472.6 441.1,476.9 446.2,480.3 447.1,485.4 445.4,492.3 441.1,498.2 435.1,504.2 433.4,511.1 433.4,519.6 431.7,529 432.1,520.5 428.6,529.9 423.5,535.9 415,538.4 408.1,541.9 403,547.8 402.2,554.7 397.9,561.5 392.8,568.3 388.5,573.5 385.9,576.9 380.8,578.9 375.7,577.7 372.3,576 374.8,580.3 375.7,585.4 379.1,588.8 377.4,594.8 375.7,596.2 360.3,596.2 357.7,601.4 351.8,602.2 350.1,604.8 354.3,607.3 350.1,610.8 348.3,615.9 343.2,618.4 341.5,622.7 344.1,626.1 346.6,627.8 344.9,631.3 339.8,636.4 337.2,640.7 337.2,644.9 339.8,648.3 338.9,651.8 344.9,656 349.2,658.9 343.2,660.3 338.9,662.9 333,661.2 326.1,657.7 321,653.5 318.4,648.3 316.7,641.5 315,634.7 316.7,627.8 315.9,624.4 318.4,621 319.3,614.2 323.6,607.3 321.9,605.6 321,600.5 323.6,592 323.6,595.7 326.1,582 327.8,573.5 328.7,563.2 330.4,551.3 331.3,541 333,530.8 332.1,521.4 333.5,521.7 331.8,520.5 323.2,514.5 314.7,507.6 309.5,499.1 304.4,488.8 299.3,482 298.4,476.9 301,475.2 303.6,471.8 301,468.3 300.2,464.1 301.9,459.8 306.1,456.4 309.5,447.8 308.7,442.7Z" fill="#4b5a6b" stroke="#0a1b2e" stroke-width="0.9" stroke-linejoin="round"/>
<path d="M395,450.4 393.3,449.5 389.9,454.7 385.6,453.8 383.9,454.7 378.7,455 376.2,453 371.1,456.4 366.8,456.4 365.9,451.3 363.4,447.8 357.4,448.7 352.3,449.5 350.6,451.3 354.8,454.7 348.8,458.9 344.6,458.1 341.7,455.5 335.2,457.2 333.5,459.8 335.2,468.3 334.3,475.2 324.9,478.6 322.4,483.7 324.1,488.8 322.4,492.3 328.3,494 333.5,497.4 348.8,493.6 349.7,499.1 357.4,503.4 364.2,505.9 365.9,512.8 372.8,519.6 373.1,528.2 374,533.3 379.1,535.9 380.8,540.2 384.2,541 385.1,547.8 386.8,551.3 382.5,556.4 375.7,560.7 382.5,564.1 387.6,570.1 388.5,573.5 400,585 470,540 470,460 400,440Z" fill="#d4a718" stroke="#0a1b2e" stroke-width="1.1" stroke-linejoin="round" clip-path="url(#sa)"/>
<path d="M309.5,436.7 302.7,436.7 302.7,417.1 328.3,417.1 328.3,422.2 325.8,427.3 324.1,431.6 326.6,435.9 333.5,440.2 340.3,442.4 342,449.5 341.2,455.5 335.2,457.2 333.5,459.8 335.2,468.3 333.8,475.2 331.8,470.1 324.9,469.2 318.1,463.2 314.7,465.8 306.1,458.1 299.3,458.1 299.3,436.7Z" fill="#d4a718" stroke="#0a1b2e" stroke-width="1.1" stroke-linejoin="round" clip-path="url(#sa)"/>
<path d="M306.1,458.1 314.7,465.8 316.4,467.5 311.3,471.8 306.1,474.3 303.6,476.9 294.2,478.6 294.2,458.1Z" fill="#d4a718" stroke="#0a1b2e" stroke-width="1.1" stroke-linejoin="round" clip-path="url(#sa)"/>
<path d="M328.3,422.2 325.8,427.3 324.1,431.6 326.6,435.9 333.5,440.2 340.3,442.4 342,449.5 341.7,455.5 344.6,458.1 348.8,458.9 354.8,454.7 350.6,451.3 352.3,449.5 357.4,448.7 363.4,447.8 362.5,444.4 364.2,440.2 369.4,438.4 371.1,434.2 372.8,425.6 328.3,417.1Z" fill="#9260a9" stroke="#0a1b2e" stroke-width="1.1" stroke-linejoin="round" clip-path="url(#sa)"/>
<ellipse cx="328.8" cy="430.3" rx="1.7" ry="2.2" fill="#0f2a45"/>
<path d="M332.1,521.4 334.7,520.5 338.9,532.5 342.4,536.7 344.9,535 351.8,536.7 356.9,534.2 360.3,538.4 365.4,541 372.3,546.1 370.6,551.3 377.4,553 382.5,549.5 385.1,547.8 386.8,551.3 382.5,556.4 375.7,560.7 373.1,563.2 371.4,568.3 371.4,573.5 372.3,576.9 420,580 420,700 290,700 290,520Z" fill="#00a868" stroke="#0a1b2e" stroke-width="1.1" stroke-linejoin="round" clip-path="url(#sa)"/>
<path d="M342.4,536.7 338.9,542.7 338.9,549.5 334.7,558.1 333,564.9 334.7,575.2 331.3,582 330.4,590.3 327,600.5 327.8,609 329.5,616.7 326.1,624.4 325.3,633 322.7,636.4 324.1,640.7 327,645.8 338.1,647.5 338.9,659.5" fill="none" stroke="#0a1b2e" stroke-width="1.4" stroke-linejoin="round" clip-path="url(#sa)"/>
<path d="M374.5,439 373.1,444.4 371.9,449.5 375.3,453.3 377.9,455.5" fill="none" stroke="#0a1b2e" stroke-width="1.0" stroke-linejoin="round" clip-path="url(#sa)"/>
<path d="M384.4,443.6 385.2,449.5 385.6,454.3" fill="none" stroke="#0a1b2e" stroke-width="1.0" stroke-linejoin="round" clip-path="url(#sa)"/>
<path d="M333.5,497.4 337.7,502.5 336,509.4 335.2,517.9 333.5,521.7" fill="none" stroke="#0a1b2e" stroke-width="1.4" stroke-linejoin="round" clip-path="url(#sa)"/>
<path d="M373.1,527.3 371.4,527.3 365.4,525.6 359.5,527.3 357.7,534.2" fill="none" stroke="#0a1b2e" stroke-width="1.4" stroke-linejoin="round" clip-path="url(#sa)"/>
<path d="M373.1,528.2 374,533.3 379.1,535.9 380.8,540.2 384.2,541 385.1,547.8" fill="none" stroke="#0a1b2e" stroke-width="1.4" stroke-linejoin="round" clip-path="url(#sa)"/>
<path d="M539.8,342.8 544.1,342 548.3,343.7 553.5,344.5 560.3,341.1 568.8,338.5 577.4,337.2 585.1,336.8 589.4,336 592.8,336.8 593.6,340.3 591.1,343.7 592.8,347.1 596.2,352.2 594.5,356.5 599.6,353.9 606.4,354.8 613.3,358.2 620.1,361.6 624.4,358.2 628.6,353.9 633.8,353.1 638.9,355.6 640.6,357.3 649.2,358.2 657.7,359 664.5,358.2 664.9,357.9 670.1,359.6 673.1,360.2 673.8,363.9 670.1,370.8 664.1,363.9 665.8,369 668.3,373.3 670.9,379.3 675.2,387 677.7,391.3 679.5,398.1 681.2,403.2 678.6,406.6 681.2,407.5 687.1,410.1 692.3,416 695.7,420.3 698.2,422.9 699.1,426.3 705.9,426.3 716.2,424.6 723.9,423.4 723,430.6 719.6,438.2 714.5,445.9 709.4,451.1 704.2,455.3 699.1,459.6 694.8,464.7 693.1,469 692.4,466.7 688.1,474.4 685.6,479.5 686.4,486.4 687.3,493.2 689.9,498.3 688.1,505.2 686.4,510.3 683,515.4 677.9,518.8 677.4,521 674,524.4 673.1,531.3 674,536.4 672.3,541.5 667.1,545.8 663.7,548.3 665.4,550.1 664.6,553.5 662,559.5 656.9,565.4 651.8,570.6 644.9,574 637.2,575.7 627.8,577 622.7,578.8 619.3,576.5 618.4,572.3 616.7,565.4 614.2,559.5 611.6,555.2 608.2,548.3 606.5,538.1 603.1,529.5 599.6,521.9 597.1,516.7 597.9,509 600.5,498.8 601.4,490.3 599.6,481.7 599.3,479.5 595.9,474.4 591.6,469.3 588.2,464.2 589,458.2 590.8,453.9 589.9,448.8 588.2,444.5 580.5,447.1 580,448.2 575.7,446.2 569.7,441.9 565.4,441.9 561.2,443.6 555.2,446.2 550.1,446.2 541.5,447 534.7,447.9 529.5,444.5 526.1,441.1 521.9,438.5 516.7,432.5 511.6,427.4 507.3,424.8 505.6,420.6 508.2,418.8 505.6,417.1 503.1,413.7 505.6,409.5 508.2,403.5 507.3,397.5 503.9,392.4 505.6,388.9 509,383 513.3,376.1 518.4,370.2 524.4,366.7 528.7,362.5 531.3,355.6 536.4,348.8Z" fill="#4b5a6b" stroke="#0a1b2e" stroke-width="0.9" stroke-linejoin="round"/>
<path d="M531.3,370.2 538.9,379.5 570.6,399.2 573.1,399.2 597.9,384.7" fill="none" stroke="#0a1b2e" stroke-width="1.0" stroke-linejoin="round" clip-path="url(#af)"/>
<path d="M538.9,379.5 541.5,410.3 521.9,412.9 521,417.1 521.9,422.3 531.3,423.1 533,429.1 543.2,428.2 550.9,427.4" fill="none" stroke="#0a1b2e" stroke-width="1.0" stroke-linejoin="round" clip-path="url(#af)"/>
<path d="M573.1,399.2 573.1,406.9 570.6,411.2 562,413.7 560.3,415.4 551.8,413.7 544.9,417.1 542.4,423.1 543.2,428.2" fill="none" stroke="#0a1b2e" stroke-width="1.0" stroke-linejoin="round" clip-path="url(#af)"/>
<path d="M560.3,415.4 561.2,420.6 565.4,423.1 568.8,423.1 571.4,422.3" fill="none" stroke="#0a1b2e" stroke-width="1.0" stroke-linejoin="round" clip-path="url(#af)"/>
<path d="M559.5,427 562,426.5 565.4,425.7 568.8,423.1" fill="none" stroke="#0a1b2e" stroke-width="1.0" stroke-linejoin="round" clip-path="url(#af)"/>
<path d="M562,426.5 562.9,434.2 563.7,441.9" fill="none" stroke="#0a1b2e" stroke-width="1.0" stroke-linejoin="round" clip-path="url(#af)"/>
<path d="M565.4,425.7 565.9,434.2 566.3,441.9" fill="none" stroke="#0a1b2e" stroke-width="1.0" stroke-linejoin="round" clip-path="url(#af)"/>
<path d="M521.9,412.9 510.8,408.6 505.6,409.5" fill="none" stroke="#0a1b2e" stroke-width="1.0" stroke-linejoin="round" clip-path="url(#af)"/>
<path d="M507.3,421.4 514.2,421.4 521,422.3" fill="none" stroke="#0a1b2e" stroke-width="1.0" stroke-linejoin="round" clip-path="url(#af)"/>
<path d="M511.6,427.4 516.7,425.7 521.9,422.3" fill="none" stroke="#0a1b2e" stroke-width="1.0" stroke-linejoin="round" clip-path="url(#af)"/>
<path d="M516.7,432.5 520.2,430 524.4,430.8 526.1,435.9 522.7,438.5" fill="none" stroke="#0a1b2e" stroke-width="1.0" stroke-linejoin="round" clip-path="url(#af)"/>
<path d="M524.4,430.8 531.3,429.1 533,429.1" fill="none" stroke="#0a1b2e" stroke-width="1.0" stroke-linejoin="round" clip-path="url(#af)"/>
<path d="M526.1,435.9 531.3,436.8 534.7,441.1 534.7,447.9" fill="none" stroke="#0a1b2e" stroke-width="1.0" stroke-linejoin="round" clip-path="url(#af)"/>
<path d="M531.3,429.1 534.7,434.2 534.7,441.1" fill="none" stroke="#0a1b2e" stroke-width="1.0" stroke-linejoin="round" clip-path="url(#af)"/>
<path d="M534.7,441.1 541.5,439.4 550.1,441.1" fill="none" stroke="#0a1b2e" stroke-width="1.0" stroke-linejoin="round" clip-path="url(#af)"/>
<path d="M608.1,387.2 609.9,396.6 608.1,406.9 603.9,412 603,418.8 606.4,423.1" fill="none" stroke="#0a1b2e" stroke-width="1.0" stroke-linejoin="round" clip-path="url(#af)"/>
<path d="M611.6,434.2 616.7,432.5 621.8,433.4 628.6,428.2 632.1,426.5 636.3,431.7" fill="none" stroke="#0a1b2e" stroke-width="1.0" stroke-linejoin="round" clip-path="url(#af)"/>
<path d="M611.6,434.2 607.3,441.1 606.4,447.9 609.9,454.7 613.3,459" fill="none" stroke="#0a1b2e" stroke-width="1.0" stroke-linejoin="round" clip-path="url(#af)"/>
<path d="M607.3,425.7 611.6,426.5" fill="none" stroke="#0a1b2e" stroke-width="1.0" stroke-linejoin="round" clip-path="url(#af)"/>
<path d="M618.4,449.6 621.8,446.2 630.4,447.9 637.2,446.2 644,447.9 648.3,446.2" fill="none" stroke="#0a1b2e" stroke-width="1.0" stroke-linejoin="round" clip-path="url(#af)"/>
<path d="M639.3,432.3 644.4,439.1 646.1,442.5" fill="none" stroke="#0a1b2e" stroke-width="1.0" stroke-linejoin="round" clip-path="url(#af)"/>
<path d="M646.1,442.5 651.3,444.2 661.5,449.4 666.6,450.2 670.9,449.4" fill="none" stroke="#0a1b2e" stroke-width="1.0" stroke-linejoin="round" clip-path="url(#af)"/>
<path d="M670.9,449.4 673.5,445.1" fill="none" stroke="#0a1b2e" stroke-width="1.0" stroke-linejoin="round" clip-path="url(#af)"/>
<path d="M588.2,454.8 595,455.6 595.9,458.2 589.9,459" fill="none" stroke="#0a1b2e" stroke-width="1.0" stroke-linejoin="round" clip-path="url(#af)"/>
<path d="M595.9,455.6 604.4,455.6 605.3,464.2 601,471 596.7,473.6" fill="none" stroke="#0a1b2e" stroke-width="1.0" stroke-linejoin="round" clip-path="url(#af)"/>
<path d="M590.8,453.9 606.1,448.8 607,442 611.3,438.5 618.9,436.8 619.8,430" fill="none" stroke="#0a1b2e" stroke-width="1.0" stroke-linejoin="round" clip-path="url(#af)"/>
<path d="M600.2,479.5 604.4,477 611.3,476.1 614.7,469.3 617.2,462.5 616.4,453.9 618.9,448.8 624.9,446.2 636.9,447.1 645.4,445.4 652.3,447.9 657.4,450.5" fill="none" stroke="#0a1b2e" stroke-width="1.0" stroke-linejoin="round" clip-path="url(#af)"/>
<path d="M606.1,448.8 611.3,450.5 616.4,453.9" fill="none" stroke="#0a1b2e" stroke-width="1.0" stroke-linejoin="round" clip-path="url(#af)"/>
<path d="M598.4,477 600.7,477.8 599.6,480.9" fill="none" stroke="#0a1b2e" stroke-width="1.0" stroke-linejoin="round" clip-path="url(#af)"/>
<path d="M654.8,470.2 655.7,477.8 654.8,483 658.2,488.9" fill="none" stroke="#0a1b2e" stroke-width="1.0" stroke-linejoin="round" clip-path="url(#af)"/>
<path d="M658.2,469.3 655.7,472.7" fill="none" stroke="#0a1b2e" stroke-width="1.0" stroke-linejoin="round" clip-path="url(#af)"/>
<path d="M669.4,494.1 671.1,499.2 679.6,498.3 689,495.8" fill="none" stroke="#0a1b2e" stroke-width="1.0" stroke-linejoin="round" clip-path="url(#af)"/>
<path d="M677.9,470.2 669.4,465" fill="none" stroke="#0a1b2e" stroke-width="1.0" stroke-linejoin="round" clip-path="url(#af)"/>
<path d="M626.1,521 626.1,533 623.6,533.8 624.4,545.8" fill="none" stroke="#0a1b2e" stroke-width="1.0" stroke-linejoin="round" clip-path="url(#af)"/>
<path d="M626.1,521 631.3,518.4" fill="none" stroke="#0a1b2e" stroke-width="1.0" stroke-linejoin="round" clip-path="url(#af)"/>
<path d="M665.1,522.7 673.1,521" fill="none" stroke="#0a1b2e" stroke-width="1.0" stroke-linejoin="round" clip-path="url(#af)"/>
<path d="M666.3,508.2 673.1,515 677.4,521" fill="none" stroke="#0a1b2e" stroke-width="1.0" stroke-linejoin="round" clip-path="url(#af)"/>
<path d="M660.3,534.7 662,531.3 665.1,522.7" fill="none" stroke="#0a1b2e" stroke-width="1.0" stroke-linejoin="round" clip-path="url(#af)"/>
<path d="M539.8,342.8 538.1,336.8 553.5,336.8 553.5,344.5 555.2,353.1 547.5,357.3 541.5,361.6 532.1,366.7 531.3,370.2 519.6,370.2 510.8,370.2 510.8,355.6 536.4,338.5Z" fill="#d4a718" stroke="#0a1b2e" stroke-width="1.1" stroke-linejoin="round" clip-path="url(#af)"/>
<path d="M585.1,336.8 582.5,333.4 596.2,333.4 599.6,352.2 596.2,352.2 594.5,356.5 591.9,359.9 590.2,357.3 586.8,353.1 584.2,347.9 585.9,342.8Z" fill="#d4a718" stroke="#0a1b2e" stroke-width="1.1" stroke-linejoin="round" clip-path="url(#af)"/>
<path d="M594.5,356.5 596.2,350.5 640.6,350.5 639.8,357.3 639.8,396.6 634.6,396.6 609.9,385.5 605.6,387.2 597.9,384.7 591.9,379.5 591.1,374.4 592.8,369.3 591.1,360.8 591.9,359.9Z" fill="#d4a718" stroke="#0a1b2e" stroke-width="1.1" stroke-linejoin="round" clip-path="url(#af)"/>
<path d="M640.2,354.5 673.1,354.5 673.8,363.9 682,389.5 640.2,389.5Z" fill="#9260a9" stroke="#0a1b2e" stroke-width="1.1" stroke-linejoin="round" clip-path="url(#af)"/>
<path d="M640.2,389.5 682,389.5 683.7,403.2 678.6,406.6 676.9,413.5 675.2,416 673.5,423.7 670.1,427.1 667.5,428 665.8,423.7 663.2,425.4 662.4,428.8 656.4,428.8 651.3,430.6 644.4,428.8 639.3,432.3 636.7,433.1 635,425.4 631.6,422 632.5,415.2 636.7,410.1 636.7,397.2 640.2,396.4Z" fill="#9260a9" stroke="#0a1b2e" stroke-width="1.1" stroke-linejoin="round" clip-path="url(#af)"/>
<path d="M678.6,406.6 685.4,404.9 699.1,418.6 695.7,422 694,421.2 688.8,416 682,414.3 676.9,413.5Z" fill="#4b5a6b" stroke="#0a1b2e" stroke-width="1.1" stroke-linejoin="round" clip-path="url(#af)"/>
<path d="M675.2,416 676.9,413.5 682,414.7 688.8,416 694,421.2 694.8,424.6 698.2,427.1 700.8,430.6 709.4,433.1 717.9,434 709.4,442.5 702.5,446.8 695.7,448.5 688.8,449.4 683.7,450.2 678.6,445.9 673.5,444.6 670.1,437.4 667.5,436.5 670.1,427.1 673.5,423.7Z" fill="#9260a9" stroke="#0a1b2e" stroke-width="1.1" stroke-linejoin="round" clip-path="url(#af)"/>
<path d="M671.1,446.2 676.2,447.1 686.4,450.2 693.3,448.8 691.6,455.6 690.7,464.2 692.4,466.7 696.7,469.3 689.9,477.8 686.4,476.1 677.9,470.2 669.4,465 671.1,459 671.9,454.8 670.2,450.5Z" fill="#d4a718" stroke="#0a1b2e" stroke-width="1.1" stroke-linejoin="round" clip-path="url(#af)"/>
<path d="M657.4,450.5 669.4,448.8 671.1,450.5 671.9,454.8 671.1,459 669.4,465 662.5,465.5 655.7,465.9 656.5,460.8 659.1,455.6Z" fill="#d4a718" stroke="#0a1b2e" stroke-width="1.1" stroke-linejoin="round" clip-path="url(#af)"/>
<path d="M654,466.7 657.7,466.2 658.6,469 654.8,469.8Z" fill="#9260a9" stroke="#0a1b2e" stroke-width="1.1" stroke-linejoin="round" clip-path="url(#af)"/>
<path d="M572.3,418.8 575.7,418 582.5,419.2 589.4,419.7 597.9,418.8 603,418.8 606.4,423.1 607.3,425.7 611.6,426.5 611.6,434.2 606.4,435.1 597.9,439.4 592.8,439.4 589.4,446.2 585.9,451.3 575.7,451.3 575.7,442.8 569.7,441.1 568.8,432.5 572.3,427.4 571.4,422.3Z" fill="#d4a718" stroke="#0a1b2e" stroke-width="1.1" stroke-linejoin="round" clip-path="url(#af)"/>
<path d="M550.9,427.4 559.5,427 560.3,430.8 560,439.4 562,442.8 560.3,449.6 551.8,449.6 550.1,441.1 550.9,434.2Z" fill="#d4a718" stroke="#0a1b2e" stroke-width="1.1" stroke-linejoin="round" clip-path="url(#af)"/>
<path d="M505.6,417.6 515,417.7 515,418.8 505.6,418.8Z" fill="#d4a718" stroke="none" stroke-width="0" stroke-linejoin="round" clip-path="url(#af)"/>
<path d="M600.2,482.1 609.5,481.8 613,486.4 618.1,487.2 623.2,484.7 628.3,485.5 630.1,493.2 630.9,498.3 635.2,498 636,503.5 630.9,504.3 630.9,515.4 635.2,518.8 628.3,519.7 616.4,518 606.1,518 597.6,516.3 590.8,516.3 590.8,482.1Z" fill="#d4a718" stroke="#0a1b2e" stroke-width="1.1" stroke-linejoin="round" clip-path="url(#af)"/>
<path d="M598.3,477 600.7,477.8 599.6,480.9 596.7,479.5Z" fill="#d4a718" stroke="#0a1b2e" stroke-width="1.1" stroke-linejoin="round" clip-path="url(#af)"/>
<path d="M630.9,504.3 636,503.5 636,498.3 645.4,500.9 652.3,504.3 652.3,493.2 653.1,489.8 659.1,489.5 665.9,492.4 667.6,497.5 666.8,503.5 665.9,507.7 657.4,510.3 655.7,512.9 648.8,518.8 643.7,520.6 635.2,518.8 630.9,515.4Z" fill="#d4a718" stroke="#0a1b2e" stroke-width="1.1" stroke-linejoin="round" clip-path="url(#af)"/>
<path d="M666.8,492.9 669.4,494.1 670.2,500.1 671.1,505.2 673.6,510.3 672.8,515.4 671.1,514.6 669.4,508.6 666.3,507.7 666.8,503.5 667.6,497.5Z" fill="#d4a718" stroke="#0a1b2e" stroke-width="1.1" stroke-linejoin="round" clip-path="url(#af)"/>
<path d="M643.7,520.6 648.8,518.8 655.7,512.9 660.8,513.7 665.1,516.3 665.6,522.3 662.5,529.1 657.4,533.4 652.3,532.5 647.1,527.4Z" fill="#d4a718" stroke="#0a1b2e" stroke-width="1.1" stroke-linejoin="round" clip-path="url(#af)"/>
<path d="M613.3,556.9 618.4,558.6 623.6,553.5 624.4,545.8 628.7,550.1 634.7,545.8 641.5,545.8 645.8,540.7 650.1,537.2 655.2,535 659.5,535 661.2,538.9 662,547.5 664.6,550.1 675.7,551.8 675.7,585.9 605.6,585.9 605.6,556.9Z" fill="#00a868" stroke="#0a1b2e" stroke-width="1.1" stroke-linejoin="round" clip-path="url(#af)"/>
<path d="M647.5,559.5 651.8,556.9 654.3,559.5 651.8,562.9 648.3,563.7Z" fill="#4b5a6b" stroke="#0a1b2e" stroke-width="1.1" stroke-linejoin="round" clip-path="url(#af)"/>
<path d="M658.9,547.5 661.7,546.6 662.9,550.1 660.3,551.8 658.6,550.1Z" fill="#4b5a6b" stroke="#0a1b2e" stroke-width="1.1" stroke-linejoin="round" clip-path="url(#af)"/>
<path d="M519.6,370.5 531.3,370.5 531.8,376.5 521,376.5 520.7,385 517.2,385.5 517.2,392.4 504.4,392.4 506,388.9 509.4,383 513.7,376.1 518.8,370.5" fill="none" stroke="#d4a718" stroke-width="0.8" stroke-linejoin="round" stroke-dasharray="1 1.2"/>
<path d="M717.5,501.4 721,505.6 721.8,511.6 719.3,517.6 715.8,528.7 711.6,541.5 706.4,545.8 701.3,543.2 699.6,534.7 702.2,527.8 701.3,516.7 708.1,513.3 713.3,507.3Z" fill="#4b5a6b" stroke="#0a1b2e" stroke-width="0.6" stroke-linejoin="round"/>
<path d="M672.7,361 673.1,350.2 673.4,346.6 674.3,342.1 672.5,339.4 664.4,338.5 657.2,339.4 650,337.6 647.1,334.2 645.7,330.1 645,326 644.3,322.6 640.2,321.2 637.5,322.6 634.8,324.6 632,326.7 634.1,330.1 636.1,334.2 632.7,334.9 633.4,338.3 631.4,337.6 630,334.2 627.9,330.8 625.9,327.4 625.2,326 623.2,322.6 621.8,318.5 618.4,315.1 614.3,311.6 610.9,308.2 607.4,305.5 603.3,303.4 600.6,305.5 599.9,306.9 602,307.5 604,311.6 607.4,316.4 610.2,319.8 614.3,322.6 618.4,324.6 619.1,326.7 615.6,326 612.9,325.3 614.3,328.7 612.9,332.1 610.2,334.2 609.5,332.1 610.9,328.7 608.8,326 604.7,323.3 600.6,321.2 596.5,319.2 592.4,315.1 588.3,311.6 583.5,309.6 580.1,311 574.7,312.3 569.9,313.7 567.8,314.8 569.2,317.8 565.1,321.2 561,324.6 558.9,328.7 556.9,331.5 554.2,334.2 551.4,337.6 544.6,339 541.9,340.3 539.1,338.3 535,336.9 530.9,337.6 530.2,333.5 528.9,330.1 530.2,326 531.6,321.9 532.3,317.8 530.2,316.4 529.6,313.7 533,312.3 537.8,311.6 544.6,312.3 551.4,313 554.2,311.6 554.8,305.5 554.2,298.7 551.4,294.6 546.6,293.9 546,291.8 553.5,290.5 553.9,291.4 553.4,288.3 556,288.3 559.1,287.8 564.2,283.2 567.3,281.6 571.9,279.6 574.4,274.5 576.5,272.4 582.6,272.4 585.7,268.8 586.7,264.7 585.7,262.2 585.7,255.5 589.8,253.4 593.4,251.9 593.9,254 591.9,256 594.4,257 592.9,259.6 590.8,261.1 589.8,262.7 592.9,262.7 596,264.2 601.1,263.7 605.2,264.7 609.3,264.2 615.4,263.2 621.6,263.7 623.6,264.7 623.6,265 627.2,263.7 627.7,260.9 628.2,258.3 627.7,255.7 630.7,252.2 634.8,253.2 638.4,250.6 638.4,249.1 634.8,245.5 639.5,243.4 645.1,242.4 650.2,241.9 650.2,240.4 645.1,240.4 640,240.4 633.8,240.4 629.7,236.3 628.2,231.1 627.7,225 628.8,228.3 632.9,221.1 638,217 641.1,212.9 636,209.8 629.8,210.9 627.7,217 621.6,223.2 615.4,231.4 614.4,235.5 618.5,241.7 614.4,247.8 613.4,255 610.3,255.5 607.2,259.6 604.2,262.2 601.6,259.6 599,253.4 597,248.3 594.9,245.2 592.9,243.2 590.8,245.2 586.7,248.3 582.6,249.9 579,247.3 577.5,243.2 576.5,235 576.4,231.4 580.5,227.3 590.8,221.1 597,215 603.1,206.8 609.3,198.5 615.4,193.4 621.6,189.3 629.8,187.3 636,184.2 642.1,182.5 650.3,181.7 656.5,183.1 659.6,184.6 656.5,187.3 658.5,190.3 652.4,194.4 660.6,190.3 668.8,192.4 677,193.4 685.2,196.5 690.4,200.6 691.4,204.7 686.3,208.8 679.1,208.8 671.9,206.8 666.8,206.8 670.9,211.9 673.9,219.1 678,221.1 679.1,217 683.2,216 688.3,218 690.4,211.9 695.5,208.8 700.6,209.8 701.7,204.7 700.6,197.5 705.8,198.1 708.8,200.6 706.8,204.7 711.9,205.7 716,201.6 724.2,198.5 732.5,195.5 734.5,198.1 740.7,196.5 748.9,195.5 752,197.5 755,190.3 761.2,191.4 767.4,193.4 775.6,196.5 780.7,198.5 782.7,195.5 777.6,190.3 775.6,183.1 780.7,176 784.8,171.4 793,172.3 792.3,171.9 795.4,178 793.3,182.1 795.4,190.3 794.4,196.5 796.4,202.6 789.2,208.8 793.3,209.8 801.6,200.6 798.5,193.4 800.5,186.2 797.5,181.1 800.5,177 801.6,171.9 803.6,181.1 805.7,181.1 804.6,177 810.8,176 818,176 822.1,178 820,171.9 820,167.7 827.2,165.7 838.5,164.7 837.5,161.6 841.6,157.5 851.9,154.4 862.1,152.4 870.3,151.3 878.5,149.3 884.7,148.2 886.8,144.1 892.9,141.1 898,141.1 899.1,143.1 903.2,145.2 905.2,148.2 913.4,146.8 921.7,148.2 926.8,152.4 924.7,156.5 917.5,159.5 912.4,163.6 923.7,165.7 925.8,167.7 931.9,166.7 942.2,167.7 944.2,169.8 956.6,169.8 957.6,166.7 966.8,167.7 973,170.8 975,174.9 974,177 978,181.4 982.5,183.7 985.2,178.7 991.5,180.1 996.9,179 1003.2,180.5 1008.7,179 1008.7,174.1 1012.3,172.3 1021.3,173.2 1032.1,174.7 1041.1,175.9 1045.6,180.5 1051.9,183.2 1060.9,182.6 1068.1,182.6 1073.5,185 1074.4,190.4 1078.9,191.6 1086.1,190.9 1093.3,191.3 1100.5,190.9 1106,195.2 1109.6,194 1108.7,188.6 1118.6,189.5 1127.6,190.4 1134.8,192.2 1142,195.8 1149.2,200.3 1155.5,203.9 1156.4,208.4 1158.2,208.9 1158.2,205.7 1163.6,205.7 1171,209.3 1167.2,212 1163.6,213.8 1162.7,219.2 1159.1,218.7 1154.6,215.6 1151,213.2 1144.7,212.9 1142.9,210.2 1140.2,211.1 1141.1,213.8 1137.5,217.4 1131.2,218.3 1133.9,221.9 1137.5,228.2 1129.4,230 1120.4,231.8 1115,235.4 1108.7,240.3 1104.2,238.1 1094.2,240.8 1088.8,241.7 1086.1,245.3 1082.5,248.9 1085.2,252.5 1084.3,258.8 1080.7,262.4 1079.8,266 1080.5,265.2 1076,267 1074.2,271.5 1069.7,274.2 1065.2,280.5 1063.4,276 1061.6,267 1061.8,259.7 1065.4,253.4 1069.9,250.7 1075.3,245.3 1079.8,240.8 1086.1,236.3 1088.8,231.8 1089.7,228.7 1085.2,228.2 1082.5,232.7 1076.2,237.2 1073.5,232.7 1066.3,233.6 1060.9,238.1 1057.3,242.6 1058.2,245.3 1051.9,245.3 1048.3,246.2 1047.4,243.5 1042,242.6 1037.5,243.9 1028.5,243.9 1017.7,245.3 1012.3,249.8 1005,256.1 996,264.2 999.5,265.6 1003.1,269.7 1009.4,267.9 1013.9,272.4 1015.3,277.8 1012.1,285 1011.2,292.3 1007.6,297.7 1003.1,303.1 997.7,308.5 992.3,313 986.8,313.9 983.2,313 980.5,315.7 977.8,319.3 976,323.8 972.4,328.3 971.5,332.8 974.2,333.7 976,338.2 975.1,342.7 971.5,344.5 968.8,343.6 967,338.2 967.9,333.7 963.4,333.7 961.6,328.3 960.7,325.6 960.3,325.5 957.6,327.3 953.1,329.1 947.7,328.2 952.2,326.4 953.1,323.7 949.5,322.8 943.2,326.4 938.7,330 942.3,334.5 946.8,336 952.5,337.2 948.6,340.3 945,342.6 948.6,348.9 951.3,354.3 952.2,359.7 951.3,366 952.4,363.4 949.7,368.8 947,374.2 942.5,379.6 937.1,384.1 929.9,387.7 922.7,390.5 916.4,392.6 913.7,395 914.6,397.7 911.9,398 910.1,395.9 908.3,392.3 904.7,391.4 901.1,394.1 899.3,397.7 901.1,402.2 904.7,406.7 908.3,412.1 911,417.5 911.9,422 910.1,426.5 906.5,430.1 902.9,431.9 901.1,428.3 895.7,426.5 891.2,423.8 889.4,420.2 884.9,421.1 882.2,422.9 880.4,428.3 881.3,433.7 883.1,439.1 886.7,442.7 891.4,447.1 893.2,451.6 895,456.1 891.4,457 887.7,453.4 884.1,448 882.3,441.7 880.5,438.1 876,433.6 880.4,437.3 878.6,430.1 877.3,422.9 875.9,415.7 874.4,408.5 873.7,401.3 871.4,398.6 866.8,395.9 863.2,392.3 858.7,390.8 860.9,392.1 856.1,392.8 849.3,393.1 843.8,392.8 841.8,391.7 841.1,393.5 837.7,396.9 832.9,400.3 827.4,405.1 822,409.2 818.6,411.2 817.9,416 817.2,421.5 815.8,427 813.1,432.4 809.7,435.8 806.3,429.7 802.9,422.9 800.1,416 798.1,409.2 796,402.4 794.7,395.5 792.6,392.8 787.1,393.5 787.8,390.7 785.1,386.6 781,385.3 779.6,383.9 776.9,381.9 774.2,378.4 770.1,378.4 763.2,377.8 757.8,378.4 753.8,379.3 746.9,378.4 741.8,377.6 735,376.7 728.1,373.3 724.7,368.2 721.3,363.1 716.2,361.4 713.6,362.2 716.2,363.1 717.9,364.8 719.6,368.2 722.2,374.2 725.6,378.4 727.3,383.6 729.9,386.1 735,385.3 738.4,381 740.1,380.2 741.8,381.9 745.2,386.1 746.9,391.3 745.2,398.1 741.8,402.4 735,405.8 729.9,408.3 724.7,411.8 716.2,415.2 705.9,418.6 699.1,420.3 698.2,415.2 694.8,408.3 690.6,403.2 687.1,398.1 685.4,391.3 682.4,382.7 676.9,375.9 674.7,369 673.8,363.9 673.1,360.2Z" fill="#9260a9" stroke="#0a1b2e" stroke-width="0.9" stroke-linejoin="round"/>
<path d="M842.3,289.1 849.5,285 856.7,282.6 863.9,285 872,286.2 875.6,282.3 878.3,277.2 888.2,280.5 890,284.1 898.1,284.6 903.5,285 908.9,288.6 916.1,289.5 922.4,287.7 928.7,285 935.1,286.8 932.3,293.1 939.6,294 945.9,298.1 939.6,301.2 932.3,303.9 926,307.5 919.7,309.3 916.1,312.9 907.1,316.5 898.1,319.2 889.1,316.5 880.1,315.6 869.3,314.3 863.9,309.3 856.7,305.7 852.2,303.9 851.3,298.5 845.9,294Z" fill="#4b5a6b" stroke="#0a1b2e" stroke-width="1.1" stroke-linejoin="round" clip-path="url(#ea)"/>
<path d="M813.1,347.5 822.4,343.2 836.8,342.1 844.1,345.3 847.7,352.5 858.5,355.2 869.3,354.3 875.6,357 876.5,363.3 876.8,366.1 871.4,366.1 863.2,367 856,371.5 848.8,370.6 843.4,372.4 834.4,369.7 827.2,367 820,364.3 842.5,374.3 835.6,373 828.8,370.9 822,368.2 817.9,365.5 818.6,360 815.8,356.5 812.2,351.1Z" fill="#4b5a6b" stroke="#0a1b2e" stroke-width="1.1" stroke-linejoin="round" clip-path="url(#ea)"/>
<path d="M820,362 830.8,364 843.4,367 856,368.8 868.7,368.5" fill="none" stroke="#b7a0c8" stroke-width="0.6" stroke-linejoin="round" stroke-dasharray="1 1.2" clip-path="url(#ea)"/>
<path d="M794.2,337.6 799.6,335.8 806.8,340.3 813.1,343.9 812.2,351.1 806.8,352.9 801.4,353.8 796.9,349.3 796,343.9Z" fill="#4b5a6b" stroke="none" stroke-width="0" stroke-linejoin="round" clip-path="url(#ea)"/>
<path d="M794.2,337.6 799.6,335.8 806.8,340.3 813.1,343.9 812.2,351.1 806.8,352.9 801.4,353.8 796.9,349.3 796,343.9 794.2,337.6" fill="none" stroke="#d4a718" stroke-width="0.8" stroke-linejoin="round" stroke-dasharray="1 1.2" clip-path="url(#ea)"/>
<path d="M730.2,317.7 734.7,319.6 740.1,318.7 743.7,315.9 750.9,316.8 758.1,319.6 765.3,325 772.5,332.2 778.8,327.7 784.2,327.3 792.3,327.7 798.7,326.2 800.5,331.3 799.6,334 794.2,337.6 790.5,342.1 786.9,347.5 783.3,351.1 776.1,354.7 767.1,360.1 761.7,361.9 757.2,361 754.5,354.7 755.4,347.5 756.3,341.2 752.7,336.7 747.3,332.2 740.1,331.3 734.7,334 729.3,334.9 729.3,324.1Z" fill="#4b5a6b" stroke="#0a1b2e" stroke-width="1.1" stroke-linejoin="round" clip-path="url(#ea)"/>
<path d="M756.3,341.2 759.9,343 765.3,341.2 768.9,336.7 776.1,334.9 783.3,335.8 788.7,333.1 794.2,331.3 800.5,331.3" fill="none" stroke="#0a1b2e" stroke-width="1.0" stroke-linejoin="round" clip-path="url(#ea)"/>
<path d="M776.1,334.9 774.3,333.1 772.5,332.2" fill="none" stroke="#0a1b2e" stroke-width="1.0" stroke-linejoin="round" clip-path="url(#ea)"/>
<path d="M788.7,316.8 799.6,313.2 819.4,314.1 820.3,318.7 812.2,322.3 805,324.1 798.7,326.2 792.3,327.7 784.2,327.3 783.3,325 792.3,324.1 795.1,321.9 790.5,320.5 785.1,322.6 786.9,318.7Z" fill="#d4a718" stroke="#0a1b2e" stroke-width="1.1" stroke-linejoin="round" clip-path="url(#ea)"/>
<path d="M669.8,341.2 675.2,341.2 681.5,338.5 693.2,338.1 693.2,343.9 688.7,349.3 686,352.9 678.8,354.7 674.3,355.6 674.3,358.3 672.5,363.7 668,363.7 668,342.1Z" fill="#4b5a6b" stroke="#0a1b2e" stroke-width="1.1" stroke-linejoin="round" clip-path="url(#ea)"/>
<path d="M693.2,338.1 701.4,336.3 704.1,340.3 709.5,341.2 711.3,349.3 714,356.5 715.8,361 712.2,362.8 705,365.5 695.9,360.1 686,352.9 688.7,349.3 693.2,343.9Z" fill="#d4a718" stroke="#0a1b2e" stroke-width="1.1" stroke-linejoin="round" clip-path="url(#ea)"/>
<path d="M674.3,355.6 678.8,354.7 686,352.9 695.9,360.1 704.1,365.5 696.8,368.2 691.4,370.9 684.2,373.6 677,372.7 673.1,368.2 672.5,363.7 674.3,358.3Z" fill="#d4a718" stroke="#0a1b2e" stroke-width="1.1" stroke-linejoin="round" clip-path="url(#ea)"/>
<path d="M671.3,346.6 676.1,345.7 675.2,350.5 671.3,350.5Z" fill="#d4a718" stroke="#0a1b2e" stroke-width="1.1" stroke-linejoin="round" clip-path="url(#ea)"/>
<path d="M711.3,362.8 715.8,361 719.4,364.6 714.9,368.2 712.2,366.4Z" fill="#4b5a6b" stroke="#0a1b2e" stroke-width="1.1" stroke-linejoin="round" clip-path="url(#ea)"/>
<path d="M690.7,312.5 695.8,314.3 701,314.3 705.6,315.6 709.7,318.4 711,321.2 707.1,320.8 704,319.8 701,319.2 697.9,318.2 694.3,316.9 691.7,316.1Z" fill="#00a868" stroke="#0a1b2e" stroke-width="0.6" stroke-linejoin="round" clip-path="url(#ea)"/>
<path d="M701,319 705.1,320 707.7,322.1 710,325.3 711,329.2 708.1,330.1 706.7,327.4 704.6,325.8 702.4,323.9 700.8,321.4Z" fill="#00a868" stroke="#0a1b2e" stroke-width="0.6" stroke-linejoin="round" clip-path="url(#ea)"/>
<path d="M692.3,409.2 698.2,407.5 702.5,405.8 711.1,405.8 719.6,404.9 726.4,402.4 729.9,398.9 736.7,397.2 739.3,394.7 738.4,389.5 736.7,385.3 739.3,380.2 743.5,378.4 753.8,386.1 753.8,398.1 736.7,415.2 719.6,422 699.1,425.4 692.3,415.2Z" fill="#4b5a6b" stroke="#0a1b2e" stroke-width="1.1" stroke-linejoin="round" clip-path="url(#ea)"/>
<path d="M702.5,405.8 709.4,415.2" fill="none" stroke="#0a1b2e" stroke-width="1.0" stroke-linejoin="round" clip-path="url(#ea)"/>
<path d="M729.9,386.1 731.6,389.5 736.7,391.3 738.7,389.5" fill="none" stroke="#0a1b2e" stroke-width="1.0" stroke-linejoin="round" clip-path="url(#ea)"/>
<path d="M725.2,379 727.5,376.6 728.5,380.3 726.8,382.4Z" fill="#4b5a6b" stroke="#0a1b2e" stroke-width="0.5" stroke-linejoin="round" clip-path="url(#ea)"/>
<path d="M883.1,395 887.6,389.6 892.1,394.1 895.7,397.7 899.3,401.3 902.9,408.5 904.7,413.9 903.8,416.6 901.1,415.3 897.5,409.4 892.1,405.8 890.3,403.1 884.9,401.3Z" fill="#4b5a6b" stroke="#0a1b2e" stroke-width="1.1" stroke-linejoin="round" clip-path="url(#ea)"/>
<path d="M890.3,417.5 895.7,415.7 902,415.7 905.6,417.5 904.7,422 901.1,425.6 895.7,428.3 889.4,426.5 888.5,420.2Z" fill="#d4a718" stroke="#0a1b2e" stroke-width="1.1" stroke-linejoin="round" clip-path="url(#ea)"/>
<path d="M880.5,441.2 887.7,443 897.7,447.1 897.7,458.8 886.8,458.8 882.3,449.8Z" fill="#d4a718" stroke="#0a1b2e" stroke-width="1.1" stroke-linejoin="round" clip-path="url(#ea)"/>
<path d="M779.6,383.9 783.7,382.5 787.8,380.5 786.5,376.4 784.4,373 787.1,370.9 793.3,369.6 797.4,364.1 798.8,360 801.4,353.8 806.8,352.9 812.2,351.1 815.8,356.5 818.6,360 817.9,365.5 822,368.2 828.8,370.9 835.6,373 842.5,374.3 843.8,373.7 845.2,376.4 843.8,380.5 845.9,381.9 845.9,387.3 845.5,392.1 841.8,396.9 822,417.4 811.1,442 794.7,417.4 791.9,398.3 774.2,391.4 778.3,386Z" fill="#d4a718" stroke="#0a1b2e" stroke-width="1.1" stroke-linejoin="round" clip-path="url(#ea)"/>
<path d="M843.8,370.9 849.3,373.7 856.1,372.3 860.2,369.6 864.3,366.1 869.8,365.5 871.9,368.9 869.8,372.3 865.7,375 863,377.8 860.2,381.9 857.5,382.5 856.8,379.8 852,379.1 847.9,378.4 845.2,376.4 843.8,373.7Z" fill="#d4a718" stroke="#0a1b2e" stroke-width="1.1" stroke-linejoin="round" clip-path="url(#ea)"/>
<path d="M845.9,381.9 847.9,378.4 852,379.1 856.8,379.8 857.5,382.5 860.2,381.9 860.9,387.3 861.9,393.5 843.8,394.8 845.5,392.1 845.9,387.3Z" fill="#d4a718" stroke="#0a1b2e" stroke-width="1.1" stroke-linejoin="round" clip-path="url(#ea)"/>
<path d="M817.2,434.5 819.2,431.1 822,434.5 823.1,439.2 821.3,442 818.2,441.7 816.8,437.9Z" fill="#d4a718" stroke="#0a1b2e" stroke-width="0.6" stroke-linejoin="round"/>
<path d="M960.7,325.6 967,319.3 972.4,318.4 977.8,315.7 983.2,312.1 981.4,319.3 976,323.8 972.4,328.3 971.5,332.8 967.9,333.7 963.4,333.7 961.6,328.3 958,326.5Z" fill="#4b5a6b" stroke="#0a1b2e" stroke-width="1.1" stroke-linejoin="round" clip-path="url(#ea)"/>
<path d="M967.9,333.7 971.5,332.8 978.7,332.8 978.7,346.3 967,346.3 965.2,338.2Z" fill="#d4a718" stroke="#0a1b2e" stroke-width="1.1" stroke-linejoin="round" clip-path="url(#ea)"/>
<path d="M717.1,300.1 713.7,294.7 709.6,291.9 710.9,286.5 713,283.7 716.4,285.1 720.5,280.3 726,278.3 731.4,279.6 739.6,283 745.1,281 751.9,283 758.1,281 752.6,277.6 756,274.8 758.1,272.1 756,269.4 761.5,267.3 768.3,266 776.5,263.9 782,261.9 787.4,263.2 788.8,267.3 794.3,267.3 797,270.3 802.5,268 807.9,265.3 806.6,267.3 812,274.8 817.5,281.7 820.2,279.6 825.7,281 831.2,282.4 836,287.1 840.7,287.8" fill="none" stroke="#0a1b2e" stroke-width="1.4" stroke-linejoin="round" clip-path="url(#ea)"/>
<path d="M840.7,287.8 836.6,293.3 835.3,297.4 828.4,296.7 826.4,302.2 823,304.2 817.5,307 819.6,311.1 818.2,315.1 816.1,315.8" fill="none" stroke="#0a1b2e" stroke-width="1.4" stroke-linejoin="round" clip-path="url(#ea)"/>
<path d="M935.1,286.8 939.6,287.7 943.2,285 948.6,273.2 955.8,271.1 963,271.8 967.5,276.8 970.2,285.9 977.4,288.6 981.9,294 994.5,292.2 991.8,298.5 988.2,303.9 982.8,305.7 981.9,313.8" fill="none" stroke="#0a1b2e" stroke-width="1.4" stroke-linejoin="round" clip-path="url(#ea)"/>
<path d="M730.2,317.7 739.2,319.6 739.2,305.1 748.2,303.3 754.5,306.9 761.7,311.4 767.1,315 772.5,317.2 776.1,320.5 779.7,318.7 784.2,315 788.7,316.8" fill="none" stroke="#0a1b2e" stroke-width="1.4" stroke-linejoin="round" clip-path="url(#ea)"/>
<path d="M772.5,317.2 774.3,322.3 778.8,327.7" fill="none" stroke="#0a1b2e" stroke-width="1.4" stroke-linejoin="round" clip-path="url(#ea)"/>
<path d="M703.2,331.3 705.9,336.7 709.5,341.2" fill="none" stroke="#0a1b2e" stroke-width="1.4" stroke-linejoin="round" clip-path="url(#ea)"/>
<path d="M708.6,326.8 714,326.8 717.6,325.9" fill="none" stroke="#0a1b2e" stroke-width="1.4" stroke-linejoin="round" clip-path="url(#ea)"/>
<path d="M757.2,361 761.7,367.3 759,372.7 762.6,376.3 759,379" fill="none" stroke="#0a1b2e" stroke-width="1.4" stroke-linejoin="round" clip-path="url(#ea)"/>
<path d="M705.9,316.8 711.3,315.9 715.8,321.4" fill="none" stroke="#0a1b2e" stroke-width="1.4" stroke-linejoin="round" clip-path="url(#ea)"/>
<path d="M695,319.6 698.7,321.4 702.3,324.1 703.2,331.3 696.8,335.8 693.2,338.1" fill="none" stroke="#0a1b2e" stroke-width="1.4" stroke-linejoin="round" clip-path="url(#ea)"/>
<path d="M645.6,260.4 648.2,259.8 650.2,258.8 653.3,259.8 655.8,260.9 659.4,261.9 660.5,266 661.5,270.1 660.5,274.2 661.5,276.2" fill="none" stroke="#0a1b2e" stroke-width="1.4" stroke-linejoin="round" clip-path="url(#ea)"/>
<path d="M876.8,366.1 877.7,374.2 874.1,379.6 875.9,385 881.3,387.7 883.1,395" fill="none" stroke="#0a1b2e" stroke-width="1.4" stroke-linejoin="round" clip-path="url(#ea)"/>
<path d="M887.6,389.6 892.1,387.2 897.5,385.9 902.9,386.8 904.7,391.4" fill="none" stroke="#0a1b2e" stroke-width="1.4" stroke-linejoin="round" clip-path="url(#ea)"/>
<path d="M892.1,394.1 895.7,392.3 899.3,397.7" fill="none" stroke="#0a1b2e" stroke-width="1.4" stroke-linejoin="round" clip-path="url(#ea)"/>
<path d="M883.1,395 879.5,396.8 874.1,401.3 875.9,408.5 879.5,412.1 878.6,419.3 881.3,424.7 880.4,428.3" fill="none" stroke="#0a1b2e" stroke-width="1.4" stroke-linejoin="round" clip-path="url(#ea)"/>
<path d="M903.8,416.6 906.5,419.3 905.6,417.5" fill="none" stroke="#0a1b2e" stroke-width="1.4" stroke-linejoin="round" clip-path="url(#ea)"/>
<path d="M899.3,401.3 902,404.9 904.7,410.3 906.5,415.7 906.1,420.2 904.7,422" fill="none" stroke="#0a1b2e" stroke-width="1.4" stroke-linejoin="round" clip-path="url(#ea)"/>
<path d="M960.7,325.6 967,319.3 972.4,318.4 977.8,315.7 981.4,313.9" fill="none" stroke="#0a1b2e" stroke-width="1.4" stroke-linejoin="round" clip-path="url(#ea)"/>
<path d="M710.4,308.7 712.2,304.2 718.5,300.6 724.8,297.9 730.2,299.7 730.7,304.2 725.7,305.1 723,308.7 726.6,313.2 729.3,317.7 734.7,319.6 737.4,322.3 734.7,324.1 733.8,329.5 734.7,334 732,337.6 725.7,338.1 720.3,335.8 717.6,331.3 717.6,325.9 715.8,321.4 713.1,316.8 711.3,312.3Z" fill="#0f2a45" stroke="#0a1b2e" stroke-width="0.6" stroke-linejoin="round"/>
<path d="M652.4,194.4 656.5,202.6 654.4,210.9 655.5,219.1 658.5,225.2 660.6,228.3 661,226.5 655.3,232.2 650.2,236.8 650.2,240.4 650.2,241.9 648.2,242.4 648.2,247 649.2,251.1 650.2,256.8 648.2,259.8 645.6,260.4 645.1,263.4 642,266 639.5,268.6 635.4,268 636.4,273.2 635.4,277.3 635.9,278.8 643,282.4 649.2,288.5 657.4,296.7 661.5,301.3 656.6,305.5 651.2,312.3 649.1,317.1 647.1,319.2 646.4,321.2 644.3,322.6 629.3,342.4 574.7,342.4 520,342.4 506.3,285 560,243.7 560,161.6 662.6,161.6 662.6,188.3 657.7,190.9Z" fill="#4b5a6b" stroke="#0a1b2e" stroke-width="1.4" stroke-linejoin="round" clip-path="url(#ea)"/>
<path d="M598,251.9 599,221.1 604.1,218 608.2,208.8 613.4,200.6 619.5,196.5 625.7,193.4" fill="none" stroke="#0a1b2e" stroke-width="1.0" stroke-linejoin="round" clip-path="url(#ea)"/>
<path d="M625.7,193.4 630.8,196.5 634.9,200.6 636,209.8" fill="none" stroke="#0a1b2e" stroke-width="1.0" stroke-linejoin="round" clip-path="url(#ea)"/>
<path d="M625.7,193.4 631.9,194.8 641.1,194.4 644.2,188.3 650.3,187.9 652.4,191.4 652.4,194.4" fill="none" stroke="#0a1b2e" stroke-width="1.0" stroke-linejoin="round" clip-path="url(#ea)"/>
<path d="M533,317.8 537.8,318.5 538.4,322.6 537.1,326 536.4,331.5 535.7,336.9" fill="none" stroke="#0a1b2e" stroke-width="1.0" stroke-linejoin="round" clip-path="url(#ea)"/>
<path d="M567.3,281.6 569.3,283.2 572.4,284.7 576.5,286.2 579,287.3" fill="none" stroke="#0a1b2e" stroke-width="1.0" stroke-linejoin="round" clip-path="url(#ea)"/>
<path d="M576.5,279.6 579,281.1 579.6,284.2" fill="none" stroke="#0a1b2e" stroke-width="1.0" stroke-linejoin="round" clip-path="url(#ea)"/>
<path d="M579,299 582.1,296.5 586.7,296 590.8,295.5 591.9,297.5 590.8,299 586.7,300.6 582.6,301.6 580.6,301.6" fill="none" stroke="#0a1b2e" stroke-width="1.0" stroke-linejoin="round" clip-path="url(#ea)"/>
<path d="M591.9,297.5 597,295.5 602.1,294.4 607.2,294.9 611.8,296.5 611.3,299.6 607.2,300.6 602.1,300.6 597,299 592.9,299" fill="none" stroke="#0a1b2e" stroke-width="1.0" stroke-linejoin="round" clip-path="url(#ea)"/>
<path d="M600.1,283.2 605.2,284.2 611.3,286.2 615.4,288.3 621.6,288.3 627.7,289.3" fill="none" stroke="#0a1b2e" stroke-width="1.0" stroke-linejoin="round" clip-path="url(#ea)"/>
<path d="M611.3,286.2 607.2,290.3 603.1,291.4" fill="none" stroke="#0a1b2e" stroke-width="1.0" stroke-linejoin="round" clip-path="url(#ea)"/>
<path d="M607.2,290.3 612.4,292.4 616.5,295.5" fill="none" stroke="#0a1b2e" stroke-width="1.0" stroke-linejoin="round" clip-path="url(#ea)"/>
<path d="M605.7,263.2 606.2,268.8 605.2,272.9 606.7,277 605.2,280.1 600.1,283.2" fill="none" stroke="#0a1b2e" stroke-width="1.0" stroke-linejoin="round" clip-path="url(#ea)"/>
<path d="M589.8,262.7 585.7,262.2" fill="none" stroke="#0a1b2e" stroke-width="1.0" stroke-linejoin="round" clip-path="url(#ea)"/>
<path d="M627.7,255.7 630.7,252.2" fill="none" stroke="#0a1b2e" stroke-width="1.0" stroke-linejoin="round" clip-path="url(#ea)"/>
<path d="M627.7,258.6 633.8,258 638.9,257.6 643,258.6 645.6,260.4" fill="none" stroke="#0a1b2e" stroke-width="1.0" stroke-linejoin="round" clip-path="url(#ea)"/>
<path d="M632.3,266.5 632.8,266 635.4,267.5 639.5,268.6" fill="none" stroke="#0a1b2e" stroke-width="1.0" stroke-linejoin="round" clip-path="url(#ea)"/>
<path d="M641,250.1 645.1,252.2 649.2,251.4" fill="none" stroke="#0a1b2e" stroke-width="1.0" stroke-linejoin="round" clip-path="url(#ea)"/>
<path d="M603.3,303.4 607.4,302.1 612.9,301.4 615.6,298.7" fill="none" stroke="#0a1b2e" stroke-width="1.0" stroke-linejoin="round" clip-path="url(#ea)"/>
<path d="M607.4,305.5 612.9,304.8 618.4,305.5 621.8,302.8" fill="none" stroke="#0a1b2e" stroke-width="1.0" stroke-linejoin="round" clip-path="url(#ea)"/>
<path d="M614.3,311.6 618.4,309.6 622.5,306.9" fill="none" stroke="#0a1b2e" stroke-width="1.0" stroke-linejoin="round" clip-path="url(#ea)"/>
<path d="M618.4,315.1 622.5,313 625.9,313" fill="none" stroke="#0a1b2e" stroke-width="1.0" stroke-linejoin="round" clip-path="url(#ea)"/>
<path d="M621.8,318.5 625.2,317.1 629.3,314.4" fill="none" stroke="#0a1b2e" stroke-width="1.0" stroke-linejoin="round" clip-path="url(#ea)"/>
<path d="M623.2,322.6 627.9,320.8 632,319.8 634.8,324.6" fill="none" stroke="#0a1b2e" stroke-width="1.0" stroke-linejoin="round" clip-path="url(#ea)"/>
<path d="M629.3,314.4 633.4,315.7 637.5,315.1 643,315.7 647.1,319.2" fill="none" stroke="#0a1b2e" stroke-width="1.0" stroke-linejoin="round" clip-path="url(#ea)"/>
<path d="M631.4,312.3 636.1,311 643,308.9 649.8,309.6" fill="none" stroke="#0a1b2e" stroke-width="1.0" stroke-linejoin="round" clip-path="url(#ea)"/>
<path d="M630.7,295.2 636.1,297.3 643,300 648.4,304.1 652.5,305.5" fill="none" stroke="#0a1b2e" stroke-width="1.0" stroke-linejoin="round" clip-path="url(#ea)"/>
<path d="M632,319.8 637.5,319.2 644.3,321.2" fill="none" stroke="#0a1b2e" stroke-width="1.0" stroke-linejoin="round" clip-path="url(#ea)"/>
<path d="M567.3,281.6 569.3,283.2 572.4,284.7 576.5,286.2 579,287.3 580.6,288.3 585.7,290.3 584.7,294.4 582.1,296.5 579,299 580.6,301.6 582.6,303.1 581.6,306.7 583.5,309.6 580.1,316.4 568.5,317.1 567.8,314.8 561,314.4 554.2,311.6 540.5,305.5 540.5,285 540.6,280.1 561.1,278Z" fill="#00a868" stroke="#0a1b2e" stroke-width="1.1" stroke-linejoin="round" clip-path="url(#ea)"/>
<path d="M571.9,279.6 570.3,276 576.5,269.8 583.1,271.9 581.6,276 580.6,278 579,280.6 576.5,279.6 573.9,280.1Z" fill="#00a868" stroke="#0a1b2e" stroke-width="1.1" stroke-linejoin="round" clip-path="url(#ea)"/>
<path d="M580.6,278 581.6,276 582.6,272.4 581.6,268.8 585.7,261.8 590.3,262.5 592.9,261.1 597,262.7 601.1,262.2 605.7,263.2 606.2,268.8 605.2,272.9 606.7,277 605.2,280.1 600.1,283.2 599.5,287.3 602.6,291.4 601.1,294.9 597,295.5 590.8,295.5 584.7,294.4 585.7,290.3 580.6,288.3 579,287.3 579.6,284.2 579,280.6Z" fill="#00a868" stroke="#0a1b2e" stroke-width="1.1" stroke-linejoin="round" clip-path="url(#ea)"/>
<path d="M582.2,305.5 583.5,302.1 588.3,300 596.5,298.7 602,300.7 603.6,303.4 604,305.5 606.1,307.5 609.1,311.6 614.3,317.8 621.1,323.3 623.8,328.7 615.6,339.7 596.5,339.7 585.6,316.4 580.1,312.3Z" fill="#00a868" stroke="#0a1b2e" stroke-width="1.1" stroke-linejoin="round" clip-path="url(#ea)"/>
<path d="M633.8,245 639.5,241.4 649.2,241.4 648.2,247 649.2,251.1 645.1,252.2 641,250.1 638.4,249.6 633.8,246.5Z" fill="#00a868" stroke="#0a1b2e" stroke-width="1.1" stroke-linejoin="round" clip-path="url(#ea)"/>
<path d="M612.4,297 615.9,295.5 621.6,293.9 627.7,293.4 631.3,294.4 630.3,297 627.7,299.4 623.6,301.6 618.5,302.1 614.9,300.6Z" fill="#d4a718" stroke="#0a1b2e" stroke-width="1.1" stroke-linejoin="round" clip-path="url(#ea)"/>
<path d="M621.8,302.8 625.9,302.1 627.9,305.5 630.7,308.2 631.4,312.3 629.3,314.4 625.9,313 623.8,309.6 622.5,306.9Z" fill="#d4a718" stroke="#0a1b2e" stroke-width="1.1" stroke-linejoin="round" clip-path="url(#ea)"/>
<path d="M623.1,265.2 627.2,263.5 631.8,264.5 632.3,266.5 624.6,267Z" fill="#9260a9" stroke="#0a1b2e" stroke-width="1.1" stroke-linejoin="round" clip-path="url(#ea)"/>
<path d="M635.9,280.2 640.5,278.7 646.6,279.2 653.8,279.7 657.9,279.2 659.5,276.7 664.1,276.7 668.2,275.6 670.7,278.2 671.2,281.3 675.3,283.3 680.5,284.3 683.5,286.4 688.1,286.9 687.6,290.5 686.6,294.1 683.5,296.1 685.6,300.7 677.4,305.9 667.1,310 658.9,303.8 655.4,303.8 652.3,304 652.8,301.6 655.9,300.7 654.8,298.7 651.8,294.6 646.6,293.1 643.6,293.6 643.1,290.5 640.5,286.4 636.4,284.3Z" fill="#d4a718" stroke="#0a1b2e" stroke-width="1.1" stroke-linejoin="round" clip-path="url(#ea)"/>
<path d="M680.5,284.9 683.5,286.4 688.1,286.9 687.6,290.5 686.6,294.1 683.5,296.1 679.4,297.2 675.3,299.2 673.3,300.7 670.2,301.8 666.6,303.8 667.1,306.4 668.2,308.9 671.2,307.4 673.3,305.4 677.4,304.8 675.3,302.8 673.3,300.7 670.2,301.8 666.6,303.8 665.1,303.8 663,301.8 661,300.2 665.1,299.2 669.2,297.7 674.3,295.1 678.4,294.1 680.5,291.5 681.5,287.9Z" fill="#4b5a6b" stroke="#d4a718" stroke-width="0.7" stroke-dasharray="1 1.1" stroke-linejoin="round" clip-path="url(#ea)"/>
<path d="M655.9,303.3 658.9,300.7 663,302 665.6,304.8 667.7,308.9 671.2,307.4 674.3,305.4 677.4,304.3 680.5,303.8 683.5,304.8 687.6,307.9 691.7,311 694.3,314.1 693.3,315.6 689.7,316.1 683.5,316.6 677.4,315.6 673.3,316.6 667.1,317.9 663,319.2 658.9,320.4 653.8,320.4 650.7,318.2 649.7,315.1 650.7,311 653.8,306.9Z" fill="#0f2a45" stroke="#0a1b2e" stroke-width="0.6" stroke-linejoin="round"/>
<path d="M666.6,304 670.2,302 672.8,301.3 674.8,302.8 677.4,304.6 673.3,305.6 671.2,307.5 668.2,309 667.1,306.5Z" fill="#4b5a6b" stroke="#d4a718" stroke-width="0.7" stroke-dasharray="1 1.1" stroke-linejoin="round"/>
<path d="M673.3,300.7 677.4,299.7 681.5,298.7 685.1,297.2 685.6,298.2 682.5,300.2 681.5,302.8 677.9,304 674.8,302.8Z" fill="#0f2a45" stroke="#0a1b2e" stroke-width="0.5" stroke-linejoin="round"/>
<path d="M646.1,323.3 648.7,322.1 651.3,321.2 653.8,321.8 652.8,323.1 649.7,323.7 647.2,324.3Z" fill="#0f2a45" stroke="#0a1b2e" stroke-width="0.5" stroke-linejoin="round"/>
<path d="M541.6,248.3 545.7,247.1 549.8,247.1 547.8,251.4 552.9,252.4 552.4,255.5 550.4,258.1 554.5,263.2 556,265.7 559.1,269.8 563.2,271.9 565.2,274.5 564.2,278 562.7,281.1 558,282.1 553.9,282.7 548.8,283.7 544.7,285.2 541.1,285.7 544.7,281.1 546.8,279.6 543.2,279.1 542.2,277 545.7,276 546.8,272.9 544.7,269.8 545.7,265.7 543.2,263.2 541.1,262.7 542.7,259.6 540.1,257.5 539.6,254.5 540.6,250.9Z" fill="#00a868" stroke="#0a1b2e" stroke-width="0.6" stroke-linejoin="round"/>
<path d="M528.3,277.5 529.3,274.5 532.4,270.9 535.5,267.8 537,265.7 539.6,266.3 540.6,268.8 539.6,272.9 539.1,275.5 537,277 533.4,278 530.4,278.6Z" fill="#4b5a6b" stroke="#0a1b2e" stroke-width="0.6" stroke-linejoin="round"/>
<path d="M535.5,265.7 537,263.7 539.6,264.2 540.1,265.9 538.1,267Z" fill="#00a868" stroke="#0a1b2e" stroke-width="0.6" stroke-linejoin="round"/>
<path d="M587.6,315.7 589.7,315.1 590,318.5 588.3,319.8Z" fill="#00a868" stroke="#0a1b2e" stroke-width="0.6" stroke-linejoin="round"/>
<path d="M586.3,321.9 589.7,320.8 591.1,324.6 590.4,328.7 587,329.4 585.9,326Z" fill="#00a868" stroke="#0a1b2e" stroke-width="0.6" stroke-linejoin="round"/>
<path d="M599.2,333.5 604,332.8 609.5,332.1 608.8,336.2 607.4,338.3 603.3,336.9 599.9,335.3Z" fill="#00a868" stroke="#0a1b2e" stroke-width="0.6" stroke-linejoin="round"/>
<path d="M635.5,342.4 640.2,343.1 643.7,343.8 640.2,344.4Z" fill="#4b5a6b" stroke="#0a1b2e" stroke-width="0.6" stroke-linejoin="round"/>
<path d="M664.8,343.8 668.9,342.4 668.2,344.4Z" fill="#4b5a6b" stroke="#0a1b2e" stroke-width="0.6" stroke-linejoin="round"/>
<path d="M596,260.1 600.1,259.6 600.6,261.6 597,262.2Z" fill="#4b5a6b" stroke="#0a1b2e" stroke-width="0.6" stroke-linejoin="round"/>
<path d="M593.9,126.7 601.1,123.6 608.2,124.6 614.4,123 621.6,126.7 627.7,130.8 620.6,133.9 618.5,139 614.4,145.2 608.2,143.5 603.1,138 597,132.8Z" fill="#4b5a6b" stroke="#0a1b2e" stroke-width="0.6" stroke-linejoin="round"/>
<path d="M616.5,120.5 625.7,119.5 633.9,118.5 642.1,120.1 647.3,122.6 644.2,125.7 636,127.1 625.7,125.7 619.5,123.6Z" fill="#4b5a6b" stroke="#0a1b2e" stroke-width="0.6" stroke-linejoin="round"/>
<path d="M627.7,137 631.9,134.9 637,138 631.9,140.6Z" fill="#4b5a6b" stroke="#0a1b2e" stroke-width="0.6" stroke-linejoin="round"/>
<path d="M702.7,119.1 711.9,118.1 719.1,117.5 724.2,118.5 719.1,120.5 714,122.6 709.9,120.5Z" fill="#9260a9" stroke="#0a1b2e" stroke-width="0.6" stroke-linejoin="round"/>
<path d="M726.3,177 730.4,171.9 734.5,165.7 739.6,159.5 742.7,156.5 753,152.4 763.2,149.3 773.5,146.8 779.7,146.2 780.7,148.9 773.5,151.3 763.2,153.8 755,157.5 746.8,161.6 741.7,168.8 738.6,176 740.7,181.1 743.7,184.2 734.5,183.1 729.4,181.1Z" fill="#9260a9" stroke="#0a1b2e" stroke-width="0.6" stroke-linejoin="round"/>
<path d="M854.9,120.5 861.1,116.4 868.3,114.8 875.5,119.5 881.6,125.7 880.6,130.8 874.4,132.4 866.2,130.4 859,125.7Z" fill="#9260a9" stroke="#0a1b2e" stroke-width="0.6" stroke-linejoin="round"/>
<path d="M881.6,138 886.8,129.8 891.9,128.7 898.7,132.8 895,135.9 886.8,137Z" fill="#9260a9" stroke="#0a1b2e" stroke-width="0.6" stroke-linejoin="round"/>
<path d="M1001.4,154.3 1004.1,151.6 1012.3,150.7 1021.3,152.5 1026.3,155.2 1024.9,158.8 1015.9,159.2 1007.7,159.7 1003.2,157Z" fill="#9260a9" stroke="#0a1b2e" stroke-width="0.6" stroke-linejoin="round"/>
<path d="M1030.6,156.1 1035.7,155.2 1043.8,157 1042,159.4 1035.7,158.8Z" fill="#9260a9" stroke="#0a1b2e" stroke-width="0.6" stroke-linejoin="round"/>
<path d="M1011.4,167.5 1015.9,165.7 1022.2,167.8 1018.6,169.3 1013.2,168.7Z" fill="#9260a9" stroke="#0a1b2e" stroke-width="0.6" stroke-linejoin="round"/>
<path d="M1135.7,182.6 1140.2,180.5 1147.4,181.4 1142.9,183.2Z" fill="#9260a9" stroke="#0a1b2e" stroke-width="0.6" stroke-linejoin="round"/>
<path d="M1017.5,270.6 1020.2,271.5 1021.1,278.7 1024.7,288.7 1021.1,290.5 1022,297.7 1018.4,300.4 1017.5,294.1 1017.5,285 1016.6,276Z" fill="#9260a9" stroke="#0a1b2e" stroke-width="0.6" stroke-linejoin="round"/>
<path d="M1011.2,313.9 1016.6,311.2 1017.5,305.8 1022,308.5 1028.3,310.3 1027.4,313 1022.9,313.9 1021.1,316.6 1015.7,315.7 1014.8,318.4 1011.2,318.9Z" fill="#00a868" stroke="#0a1b2e" stroke-width="0.6" stroke-linejoin="round"/>
<path d="M1011.2,323.8 1013.9,321.1 1016.6,324.7 1016.6,328.3 1013.9,331.9 1012.1,337.3 1008.5,340.9 1003.1,344.5 998.6,348.1 995.9,349 994.1,346.3 988.7,346.3 983.2,348.1 985,344.5 992.3,342.3 997.7,342.3 1000.4,338.2 1005.8,335.5 1010.3,331 1011.2,327.4Z" fill="#00a868" stroke="#0a1b2e" stroke-width="0.6" stroke-linejoin="round"/>
<path d="M977.8,351.7 982.3,349 984.1,353.5 982.3,357.1 980.5,358Z" fill="#00a868" stroke="#0a1b2e" stroke-width="0.6" stroke-linejoin="round"/>
<path d="M987.2,349.6 992.3,347.8 993.2,349.6 988.7,351.4Z" fill="#00a868" stroke="#0a1b2e" stroke-width="0.6" stroke-linejoin="round"/>
<path d="M947.9,382.3 950.6,379.3 952.4,380.5 952.4,386.8 949.7,390.1 947.6,387.2Z" fill="#00a868" stroke="#0a1b2e" stroke-width="0.6" stroke-linejoin="round"/>
<path d="M910.1,398.6 913.7,396.8 916.9,397.7 915.5,401.3 911.9,402.2Z" fill="#9260a9" stroke="#0a1b2e" stroke-width="0.6" stroke-linejoin="round"/>
<path d="M948.8,403.1 952.4,402.2 954.2,405.8 952.4,410.3 951.5,413.9 954.2,416.6 957.8,417.5 959.6,420.2 956,420.2 952.4,418.4 948.8,416.6 947,412.1 948.3,407.6Z" fill="#d4a718" stroke="#0a1b2e" stroke-width="0.6" stroke-linejoin="round"/>
<path d="M948.8,419.3 951.5,418.9 951.2,421.1Z" fill="#d4a718" stroke="#0a1b2e" stroke-width="0.6" stroke-linejoin="round"/>
<path d="M953.3,424.7 956.9,424.3 958.7,427.4 955.5,428.3Z" fill="#d4a718" stroke="#0a1b2e" stroke-width="0.6" stroke-linejoin="round"/>
<path d="M961.4,422 964.2,423.2 963.8,426.5 961.4,425.6Z" fill="#d4a718" stroke="#0a1b2e" stroke-width="0.6" stroke-linejoin="round"/>
<path d="M953.3,437.3 958.7,434.6 962.3,432.8 966,431.9 967.4,435.5 966.3,440 963.2,442.7 960.5,439.1 956.9,438.7Z" fill="#d4a718" stroke="#0a1b2e" stroke-width="0.6" stroke-linejoin="round"/>
<path d="M937.1,434.6 944.3,426.5 945.6,427.4 938.9,435.1Z" fill="#d4a718" stroke="#0a1b2e" stroke-width="0.6" stroke-linejoin="round"/>
<path d="M867,446.2 870.6,444.8 875.1,448 880.5,453.4 886.8,458.8 892.3,463.3 897.7,468.7 900.4,475 899.5,480.8 895,478.7 890.5,474.1 885,468.7 879.6,463.3 876,457 871.5,451.6Z" fill="#d4a718" stroke="#0a1b2e" stroke-width="0.6" stroke-linejoin="round"/>
<path d="M900.4,483.2 904.9,481.9 911.2,484.1 917.5,483.7 924.7,486.8 931,488.6 929.2,490.4 921.1,489.1 913.9,487.7 906.7,486.8 902.2,485.5Z" fill="#d4a718" stroke="#0a1b2e" stroke-width="0.6" stroke-linejoin="round"/>
<path d="M936.4,490 940,488.6 943.6,489.5 940.9,491.3Z" fill="#d4a718" stroke="#0a1b2e" stroke-width="0.6" stroke-linejoin="round"/>
<path d="M946.3,489.5 950.8,488.6 955.3,489.1 952.6,490.9Z" fill="#d4a718" stroke="#0a1b2e" stroke-width="0.6" stroke-linejoin="round"/>
<path d="M944.5,493.1 947.2,492.7 948.1,494.9Z" fill="#d4a718" stroke="#0a1b2e" stroke-width="0.6" stroke-linejoin="round"/>
<path d="M958,493.1 961.6,491.3 963.4,492.2 959.8,495.2Z" fill="#d4a718" stroke="#0a1b2e" stroke-width="0.6" stroke-linejoin="round"/>
<path d="M962.5,490.9 966.1,489.1 970.1,489.1 966.1,491.6Z" fill="#4b5a6b" stroke="#0a1b2e" stroke-width="0.6" stroke-linejoin="round"/>
<path d="M911.2,460.6 913.9,457.9 919.3,455.2 924.7,452.5 930.1,448 933.7,442.6 937.3,439.9 940,443.5 943.6,445.3 940,448 938.2,451.6 939.1,457 941.8,458.8 938.2,461.5 937.3,467.8 933.7,471.4 928.3,473.2 922,472.3 917.5,471.4 913.9,467.8 912.1,464.2Z" fill="#d4a718" stroke="#0a1b2e" stroke-width="0.6" stroke-linejoin="round"/>
<path d="M913.9,458.5 921.1,458.8 928.3,456.1 932.8,449.8 939.1,448" fill="none" stroke="#0a1b2e" stroke-width="1.4" stroke-linejoin="round"/>
<path d="M929.2,446.6 931.2,445.5 931.9,447.3 930.1,448Z" fill="#4b5a6b" stroke="#0a1b2e" stroke-width="0.6" stroke-linejoin="round"/>
<path d="M946.3,459.7 953.5,458.8 962.5,457.4 961.6,459.7 955.3,461 949.9,462.4 953.5,466 955.3,468.7 950.8,466.9 948.1,468.7 946.3,473.2 943.6,471.4 945.4,466 946.3,462.4Z" fill="#d4a718" stroke="#0a1b2e" stroke-width="0.6" stroke-linejoin="round"/>
<path d="M970.6,457 973.7,456.7 974.8,460.6 972.4,462.4 971.2,459.7Z" fill="#d4a718" stroke="#0a1b2e" stroke-width="0.6" stroke-linejoin="round"/>
<path d="M966.1,472.9 969.4,472.3 968.8,474.1Z" fill="#d4a718" stroke="#0a1b2e" stroke-width="0.6" stroke-linejoin="round"/>
<path d="M973.3,471.8 979.6,472.3 980.5,474.1 974.2,473.2Z" fill="#d4a718" stroke="#0a1b2e" stroke-width="0.6" stroke-linejoin="round"/>
<path d="M991.4,481.4 993.5,480.8 992.8,484.1Z" fill="#d4a718" stroke="#0a1b2e" stroke-width="0.6" stroke-linejoin="round"/>
<path d="M981.4,465.1 986,463.9 990.5,465.1 992.3,468.7 998.6,468.2 1003.1,467.8 1009.4,468.7 1013.9,471.1 1013.9,490.4 1009.4,488.6 1004,489.1 1006.7,485 1003.1,480.5 998.6,477.2 993.2,475 987.8,474.1 986.9,470.5 984.2,466.9Z" fill="#d4a718" stroke="#0a1b2e" stroke-width="0.6" stroke-linejoin="round"/>
<path d="M1013.9,471.1 1020.2,473.2 1027.4,477.7 1035.5,482.3 1033.7,485 1037.3,489.5 1042.7,494 1045.4,495.8 1040,494.9 1034.6,491.3 1029.2,487.7 1023.8,488.6 1020.2,492.2 1013.9,490.4Z" fill="#4b5a6b" stroke="#0a1b2e" stroke-width="0.6" stroke-linejoin="round"/>
<path d="M1037.3,480.5 1043.6,481.4 1049,478.7 1051,475 1051,477.7 1047.2,482.3 1040,482.6Z" fill="#4b5a6b" stroke="#0a1b2e" stroke-width="0.6" stroke-linejoin="round"/>
<path d="M925.5,540.3 927.8,534.5 937.1,529.8 949.8,526.4 955.6,519.4 961.4,512.5 968.4,507.8 977.6,509.7 980,503.2 986.9,499.7 992.7,502 999.7,501.3 997.4,509 1003.1,513.6 1012.4,518.9 1015.9,510.1 1018.2,498.5 1021.7,505.5 1026.3,510.1 1028.6,519.4 1034.4,525.2 1041.4,532.2 1047.2,539.1 1051.8,547.2 1053.4,556.5 1051.8,566.9 1047.2,575 1043.7,584.3 1037.9,591.3 1031,593.6 1026.3,590.8 1020.5,592.4 1013.6,588.9 1010.1,582 1005.5,576.2 1003.1,572.7 1000.8,578.5 997.4,575 992.7,570.4 983.4,566.9 974.2,568.1 964.9,570.4 955.6,575 946.4,576.2 937.1,578.5 931.3,575 933.6,568.1 931.3,560 927.8,551.9 925,547.2Z" fill="#00a868" stroke="#0a1b2e" stroke-width="0.6" stroke-linejoin="round"/>
<path d="M1026.3,601.7 1032.1,602.4 1037.2,602.4 1036.3,608.6 1032.1,612.1 1028.6,608.6Z" fill="#00a868" stroke="#0a1b2e" stroke-width="0.6" stroke-linejoin="round"/>
<path d="M1116,578.5 1119,579.7 1123,586.6 1128.3,588.9 1134.6,590.1 1133.6,594.7 1129.5,598.2 1127.2,602.8 1123,604 1123.7,598.2 1120.2,593.6 1119,585.5Z" fill="#4b5a6b" stroke="#0a1b2e" stroke-width="0.6" stroke-linejoin="round"/>
<path d="M1096.6,619.1 1101.7,614.4 1109.8,609.8 1115.6,602.8 1120.7,600.5 1120.2,606.3 1115.6,613.3 1109.8,619.1 1105.1,624.2 1099.3,624.9Z" fill="#4b5a6b" stroke="#0a1b2e" stroke-width="0.6" stroke-linejoin="round"/>
<path d="M1087.7,528.2 1091.2,529.8 1097.7,535.2 1095.9,535.6 1090.1,532.2Z" fill="#4b5a6b" stroke="#0a1b2e" stroke-width="0.6" stroke-linejoin="round"/>
<path d="M1131.3,519.4 1135.3,518.9 1135.3,521.7 1131.8,521.7Z" fill="#4b5a6b" stroke="#0a1b2e" stroke-width="0.6" stroke-linejoin="round"/>
<path d="M1135.3,515.9 1138.7,514.8 1139.9,515.9 1136.4,517.5Z" fill="#4b5a6b" stroke="#0a1b2e" stroke-width="0.6" stroke-linejoin="round"/>
<path d="M1095.9,510.1 1098.2,509.7 1099.8,514.8 1098.2,515.9Z" fill="#4b5a6b" stroke="#0a1b2e" stroke-width="0.6" stroke-linejoin="round"/>
<path d="M1064.6,483.5 1066.9,485.1 1066,486Z" fill="#4b5a6b" stroke="#0a1b2e" stroke-width="0.6" stroke-linejoin="round"/>
<path d="M1070.4,486.5 1073.8,488.8 1072.7,489.7Z" fill="#4b5a6b" stroke="#0a1b2e" stroke-width="0.6" stroke-linejoin="round"/>
<path d="M1077.3,489.3 1080.3,492.7 1078.9,493.4Z" fill="#4b5a6b" stroke="#0a1b2e" stroke-width="0.6" stroke-linejoin="round"/></svg>
<div id="labels"><div class="lab" style="left:203.2px;top:262.7px;width:31.0px;height:9.0px;line-height:7.0px;background:#00a868">Canada</div>
<div class="lab" style="left:213.2px;top:327.2px;width:51.0px;height:8.8px;line-height:6.8px;background:#00a868">United States</div>
<div class="lab" style="left:494.4px;top:212.3px;width:30.5px;height:9.1px;line-height:7.1px;background:#00a868">Iceland</div>
<div class="lab" style="left:220.6px;top:386.1px;width:30.3px;height:8.7px;line-height:6.7px;background:#d4a718">Mexico</div>
<div class="lab" style="left:309.5px;top:387.3px;width:23.4px;height:8.7px;line-height:6.7px;background:#9260a9">Cuba</div>
<div class="lab" style="left:288.1px;top:410.0px;width:39.8px;height:8.8px;line-height:6.8px;background:#9260a9">Nicaragua</div>
<div class="lab" style="left:246.3px;top:429.2px;width:41.3px;height:8.6px;line-height:6.6px;background:#00a868">Costa Rica</div>
<div class="lab" style="left:337.1px;top:429.3px;width:39.9px;height:8.6px;line-height:6.6px;background:#9260a9">Venezuela</div>
<div class="lab" style="left:285.0px;top:443.2px;width:38.0px;height:8.9px;line-height:6.9px;background:#d4a718">Colombia</div>
<div class="lab" style="left:271.7px;top:465.3px;width:34.2px;height:8.6px;line-height:6.6px;background:#d4a718">Ecuador</div>
<div class="lab" style="left:381.3px;top:490.2px;width:25.1px;height:8.6px;line-height:6.6px;background:#d4a718">Brazil</div>
<div class="lab" style="left:305.3px;top:580.8px;width:23.7px;height:8.9px;line-height:6.9px;background:#00a868">Chile</div>
<div class="lab" style="left:340.3px;top:585.4px;width:39.3px;height:8.9px;line-height:6.9px;background:#00a868">Argentina</div>
<div class="lab" style="left:501.9px;top:349.1px;width:35.8px;height:8.7px;line-height:6.7px;background:#d4a718">Morocco</div>
<div class="lab" style="left:591.4px;top:343.3px;width:29.5px;height:8.7px;line-height:6.7px;background:#d4a718">Tunisia</div>
<div class="lab" style="left:636.3px;top:346.4px;width:34.7px;height:8.7px;line-height:6.7px;background:#d4a718">Lebanon</div>
<div class="lab" style="left:607.8px;top:371.0px;width:23.9px;height:8.9px;line-height:6.9px;background:#d4a718">Libya</div>
<div class="lab" style="left:644.3px;top:374.3px;width:25.4px;height:8.6px;line-height:6.6px;background:#9260a9">Egypt</div>
<div class="lab" style="left:642.3px;top:413.5px;width:26.9px;height:8.9px;line-height:6.9px;background:#9260a9">Sudan</div>
<div class="lab" style="left:581.6px;top:426.2px;width:29.9px;height:8.6px;line-height:6.6px;background:#d4a718">Nigeria</div>
<div class="lab" style="left:528.2px;top:432.5px;width:27.5px;height:8.9px;line-height:6.9px;background:#d4a718">Ghana</div>
<div class="lab" style="left:458.0px;top:417.6px;width:45.9px;height:8.9px;line-height:6.9px;background:#d4a718">The Gambia</div>
<div class="lab" style="left:635.2px;top:451.3px;width:31.9px;height:8.6px;line-height:6.6px;background:#d4a718">Uganda</div>
<div class="lab" style="left:684.2px;top:459.4px;width:26.1px;height:8.6px;line-height:6.6px;background:#d4a718">Kenya</div>
<div class="lab" style="left:620.6px;top:468.4px;width:33.0px;height:8.6px;line-height:6.6px;background:#9260a9">Rwanda</div>
<div class="lab" style="left:677.8px;top:431.5px;width:34.0px;height:8.9px;line-height:6.9px;background:#9260a9">Ethiopia</div>
<div class="lab" style="left:596.4px;top:492.3px;width:29.0px;height:8.6px;line-height:6.6px;background:#d4a718">Angola</div>
<div class="lab" style="left:619.3px;top:506.3px;width:30.4px;height:8.6px;line-height:6.6px;background:#d4a718">Zambia</div>
<div class="lab" style="left:671.4px;top:504.3px;width:30.4px;height:8.9px;line-height:6.9px;background:#d4a718">Malawi</div>
<div class="lab" style="left:657.4px;top:522.7px;width:40.1px;height:8.9px;line-height:6.9px;background:#d4a718">Zimbabwe</div>
<div class="lab" style="left:637.7px;top:571.0px;width:47.3px;height:8.9px;line-height:6.9px;background:#00a868">South Africa</div>
<div class="lab" style="left:701.4px;top:340.4px;width:19.3px;height:9.1px;line-height:7.1px;background:#d4a718">Iraq</div>
<div class="lab" style="left:724.5px;top:349.3px;width:19.8px;height:8.8px;line-height:6.8px;background:#9260a9">Iran</div>
<div class="lab" style="left:675.1px;top:358.3px;width:29.5px;height:8.9px;line-height:6.9px;background:#d4a718">Jordan</div>
<div class="lab" style="left:761.4px;top:360.2px;width:34.2px;height:8.8px;line-height:6.8px;background:#9260a9">Pakistan</div>
<div class="lab" style="left:719.0px;top:368.2px;width:31.5px;height:8.8px;line-height:6.8px;background:#9260a9">Bahrain</div>
<div class="lab" style="left:732.3px;top:385.3px;width:20.3px;height:8.7px;line-height:6.7px;background:#9260a9">UAE</div>
<div class="lab" style="left:682.3px;top:395.5px;width:47.5px;height:8.9px;line-height:6.9px;background:#9260a9">Saudi Arabia</div>
<div class="lab" style="left:759.9px;top:281.2px;width:44.2px;height:8.6px;line-height:6.6px;background:#9260a9">Kazakhstan</div>
<div class="lab" style="left:748.2px;top:307.3px;width:42.3px;height:9.0px;line-height:7.0px;background:#9260a9">Uzbekistan</div>
<div class="lab" style="left:799.3px;top:317.0px;width:42.4px;height:9.0px;line-height:7.0px;background:#d4a718">Kyrgyzstan</div>
<div class="lab" style="left:677.4px;top:304.2px;width:31.7px;height:9.4px;line-height:7.4px;background:#00a868">Georgia</div>
<div class="lab" style="left:667.1px;top:318.3px;width:33.9px;height:9.0px;line-height:7.0px;background:#00a868">Armenia</div>
<div class="lab" style="left:717.2px;top:323.2px;width:41.8px;height:9.0px;line-height:7.0px;background:#9260a9">Azerbaijan</div>
<div class="lab" style="left:648.4px;top:329.0px;width:29.2px;height:9.0px;line-height:7.0px;background:#9260a9;color:#a6c6ef"><i style="position:absolute;left:1.6px;right:1.7px;top:-0.9px;bottom:-0.4px;background:#6357ac"></i><span style="position:relative">Turkey</span></div>
<div class="lab" style="left:801.2px;top:381.2px;width:22.7px;height:8.8px;line-height:6.8px;background:#d4a718">India</div>
<div class="lab" style="left:640.4px;top:237.1px;width:30.7px;height:9.4px;line-height:7.4px;background:#00a868">Estonia</div>
<div class="lab" style="left:512.0px;top:264.1px;width:59.7px;height:9.2px;line-height:7.2px;background:#00a868">United Kingdom</div>
<div class="lab" style="left:573.4px;top:262.2px;width:47.5px;height:9.4px;line-height:7.4px;background:#00a868">Netherlands</div>
<div class="lab" style="left:648.2px;top:264.4px;width:31.5px;height:8.9px;line-height:6.9px;background:#9260a9">Belarus</div>
<div class="lab" style="left:587.6px;top:274.7px;width:36.6px;height:8.8px;line-height:6.8px;background:#00a868">Germany</div>
<div class="lab" style="left:606.2px;top:285.4px;width:35.0px;height:9.2px;line-height:7.2px;background:#d4a718">Hungary</div>
<div class="lab" style="left:645.5px;top:284.5px;width:32.5px;height:8.6px;line-height:6.6px;background:#d4a718">Ukraine</div>
<div class="lab" style="left:545.8px;top:293.4px;width:29.0px;height:9.4px;line-height:7.4px;background:#00a868">France</div>
<div class="lab" style="left:630.7px;top:304.0px;width:27.6px;height:9.1px;line-height:7.1px;background:#d4a718">Serbia</div>
<div class="lab" style="left:591.4px;top:308.5px;width:20.5px;height:9.2px;line-height:7.2px;background:#00a868">Italy</div>
<div class="lab" style="left:852.2px;top:228.4px;width:27.6px;height:8.9px;line-height:6.9px;background:#9260a9">Russia</div>
<div class="lab" style="left:868.4px;top:338.6px;width:25.6px;height:9.4px;line-height:7.4px;background:#9260a9">China</div>
<div class="lab" style="left:924.2px;top:343.0px;width:47.5px;height:9.0px;line-height:7.0px;background:#d4a718">South Korea</div>
<div class="lab" style="left:1004.3px;top:340.0px;width:26.2px;height:9.4px;line-height:7.4px;background:#00a868">Japan</div>
<div class="lab" style="left:950.1px;top:381.1px;width:29.9px;height:9.7px;line-height:7.7px;background:#00a868">Taiwan</div>
<div class="lab" style="left:842.5px;top:383.3px;width:44.3px;height:9.4px;line-height:7.4px;background:#d4a718">Bangladesh</div>
<div class="lab" style="left:833.2px;top:404.3px;width:37.8px;height:8.6px;line-height:6.6px;background:#9260a9">Myanmar</div>
<div class="lab" style="left:883.1px;top:403.4px;width:34.7px;height:9.4px;line-height:7.4px;background:#9260a9">Thailand</div>
<div class="lab" style="left:907.9px;top:420.2px;width:33.9px;height:9.0px;line-height:7.0px;background:#9260a9">Vietnam</div>
<div class="lab" style="left:860.6px;top:424.4px;width:40.1px;height:9.3px;line-height:7.3px;background:#d4a718">Cambodia</div>
<div class="lab" style="left:968.1px;top:426.1px;width:42.9px;height:9.4px;line-height:7.4px;background:#d4a718">Philippines</div>
<div class="lab" style="left:885.3px;top:445.3px;width:35.3px;height:9.4px;line-height:7.4px;background:#d4a718">Malaysia</div>
<div class="lab" style="left:862.0px;top:464.0px;width:39.7px;height:9.2px;line-height:7.2px;background:#d4a718">Singapore</div>
<div class="lab" style="left:924.1px;top:469.5px;width:38.9px;height:9.1px;line-height:7.1px;background:#d4a718">Indonesia</div>
<div class="lab" style="left:789.2px;top:450.2px;width:36.6px;height:9.3px;line-height:7.3px;background:#d4a718">Sri Lanka</div>
<div class="lab" style="left:977.8px;top:541.2px;width:36.1px;height:8.7px;line-height:6.7px;background:#00a868">Australia</div></div>
<div class="abs" id="title">FREEDOM ON THE NET <span class="yr">202<b>5</b></span></div>
<div class="abs" id="anka">anka</div>

<div class="lg" style="left:244px;width:47px;border-color:#00a868"><i style="width:22px;background:#00a868"></i><b style="left:25.5px">FREE</b></div>
<div class="lg" style="left:300px;width:76px;border-color:#d4a718"><i style="width:23.5px;background:#d4a718"></i><b style="left:27px">PARTLY FREE</b></div>
<div class="lg" style="left:386px;width:65px;border-color:#9260a9"><i style="width:23.5px;background:#9260a9"></i><b style="left:27px">NOT FREE</b></div>
<div class="lg" style="left:459px;width:85px;border-color:#4b5a6b"><i style="width:23px;background:#4b5a6b"></i><b style="left:26px">NOT ASSESSED</b></div>

<div id="tbl">
 <div class="r" style="top:0.7px;font-size:7.7px;color:#e9edf2">Status<span>Countries</span></div>
 <div class="ln" style="top:11.2px;height:1.3px"></div>
 <div class="r" style="top:18px;font-weight:bold;font-size:6.3px;letter-spacing:.4px">FREE<span style="font-weight:normal;font-size:7.4px;letter-spacing:0">18</span></div>
 <div class="r" style="top:28.8px;font-weight:bold;font-size:6.3px;letter-spacing:.4px">PARTLY FREE<span style="font-weight:normal;font-size:7.4px;letter-spacing:0">32</span></div>
 <div class="r" style="top:41px;font-weight:bold;font-size:6.3px;letter-spacing:.4px">NOT FREE<span style="font-weight:normal;font-size:7.4px;letter-spacing:0">22</span></div>
 <div class="ln" style="top:51.4px;height:1.1px"></div>
 <div class="r" style="top:58px;font-weight:bold;font-size:7.8px">Total<span>72</span></div>
 <div class="ln" style="top:68.4px;height:1.3px"></div>
</div>
<div class="abs" id="para">Certain territories that are assessed separately in Freedom<br>House’s <i>Freedom in the World</i> report are excluded from<br>the relevant country assessments in FOTN, as conditions<br>in territories differ significantly from those in the rest<br>of the country. For more information about the report’s<br>geographical coverage, visit <u>freedomonthenet.org</u>.</div>

<div class="hr" style="left:79px;width:467px"></div>
<div class="hr" style="left:633px;width:467px"></div>
<div class="abs pg" style="left:33px">22</div>
<div class="abs foot" style="left:79px">@freedomhouse</div>
<div class="abs foot" style="right:626px">#FreedomOnTheNet</div>
<div class="abs foot" style="right:72px">freedomhouse.org</div>
<div class="abs pg" style="right:25px">23</div>
</body></html>
